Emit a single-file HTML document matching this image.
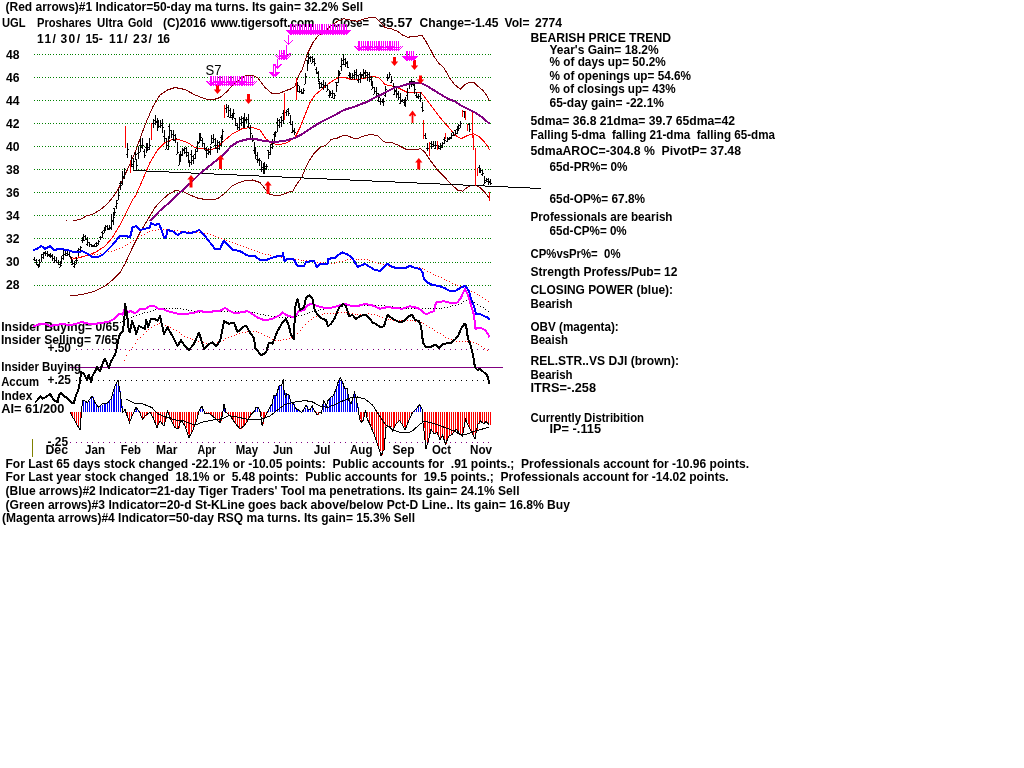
<!DOCTYPE html>
<html><head><meta charset="utf-8"><title>UGL Proshares Ultra Gold</title>
<style>html,body{margin:0;padding:0;background:#fff}svg{display:block}text{font-family:"Liberation Sans",sans-serif;font-weight:bold;font-size:12px;fill:#000}</style></head>
<body>
<svg width="1024" height="768" viewBox="0 0 1024 768" shape-rendering="crispEdges">
<rect width="1024" height="768" fill="#fff"/>
<line x1="70" x2="503" y1="367.5" y2="367.5" stroke="#800080" stroke-width="1"/>
<g id="labels">
<text x="5.5" y="11" textLength="357.5" lengthAdjust="spacingAndGlyphs" xml:space="preserve">(Red arrows)#1 Indicator=50-day ma turns. Its gain= 32.2% Sell</text>
<text x="2" y="27" textLength="23.5" lengthAdjust="spacingAndGlyphs" xml:space="preserve">UGL</text>
<text x="37" y="27" textLength="54.5" lengthAdjust="spacingAndGlyphs" xml:space="preserve">Proshares</text>
<text x="97" y="27" textLength="26" lengthAdjust="spacingAndGlyphs" xml:space="preserve">Ultra</text>
<text x="128" y="27" textLength="24.5" lengthAdjust="spacingAndGlyphs" xml:space="preserve">Gold</text>
<text x="163" y="27" textLength="43" lengthAdjust="spacingAndGlyphs" xml:space="preserve">(C)2016</text>
<text x="210.7" y="27" textLength="103.8" lengthAdjust="spacingAndGlyphs" xml:space="preserve">www.tigersoft.com</text>
<text x="332" y="27" textLength="37" lengthAdjust="spacingAndGlyphs" xml:space="preserve">Close=</text>
<text x="378.5" y="27" textLength="34" lengthAdjust="spacingAndGlyphs" xml:space="preserve">35.57</text>
<text x="419.5" y="27" textLength="79.1" lengthAdjust="spacingAndGlyphs" xml:space="preserve">Change=-1.45</text>
<text x="504.5" y="27" textLength="25" lengthAdjust="spacingAndGlyphs" xml:space="preserve">Vol=</text>
<text x="535" y="27" textLength="27" lengthAdjust="spacingAndGlyphs" xml:space="preserve">2774</text>
<text x="37" y="43" textLength="18.8" lengthAdjust="spacing" xml:space="preserve">11/</text>
<text x="60.5" y="43" textLength="19.5" lengthAdjust="spacing" xml:space="preserve">30/</text>
<text x="85.5" y="43" textLength="17.2" lengthAdjust="spacing" xml:space="preserve">15-</text>
<text x="108.9" y="43" textLength="18.8" lengthAdjust="spacing" xml:space="preserve">11/</text>
<text x="133.1" y="43" textLength="18.8" lengthAdjust="spacing" xml:space="preserve">23/</text>
<text x="157.3" y="43" textLength="12.7" lengthAdjust="spacing" xml:space="preserve">16</text>
<text x="530.5" y="42" textLength="140.5" lengthAdjust="spacingAndGlyphs" xml:space="preserve">BEARISH PRICE TREND</text>
<text x="549.5" y="54" textLength="109.2" lengthAdjust="spacingAndGlyphs" xml:space="preserve">Year's Gain= 18.2%</text>
<text x="549.5" y="66" textLength="116.2" lengthAdjust="spacingAndGlyphs" xml:space="preserve">% of days up= 50.2%</text>
<text x="549.5" y="80" textLength="141.5" lengthAdjust="spacingAndGlyphs" xml:space="preserve">% of openings up= 54.6%</text>
<text x="549.5" y="93" textLength="126" lengthAdjust="spacingAndGlyphs" xml:space="preserve">% of closings up= 43%</text>
<text x="549.5" y="106.5" textLength="114.5" lengthAdjust="spacingAndGlyphs" xml:space="preserve">65-day gain= -22.1%</text>
<text x="530.5" y="124.5" textLength="204.5" lengthAdjust="spacingAndGlyphs" xml:space="preserve">5dma= 36.8 21dma= 39.7 65dma=42</text>
<text x="530.5" y="139" textLength="244.5" lengthAdjust="spacingAndGlyphs" xml:space="preserve">Falling 5-dma  falling 21-dma  falling 65-dma</text>
<text x="530.5" y="154.5" textLength="210.5" lengthAdjust="spacingAndGlyphs" xml:space="preserve">5dmaAROC=-304.8 %  PivotP= 37.48</text>
<text x="549.5" y="170.5" textLength="78" lengthAdjust="spacingAndGlyphs" xml:space="preserve">65d-PR%= 0%</text>
<text x="549.5" y="202.5" textLength="95.5" lengthAdjust="spacingAndGlyphs" xml:space="preserve">65d-OP%= 67.8%</text>
<text x="530.5" y="221" textLength="142" lengthAdjust="spacingAndGlyphs" xml:space="preserve">Professionals are bearish</text>
<text x="549.5" y="234.5" textLength="77.2" lengthAdjust="spacingAndGlyphs" xml:space="preserve">65d-CP%= 0%</text>
<text x="530.5" y="258" textLength="90" lengthAdjust="spacingAndGlyphs" xml:space="preserve">CP%vsPr%=  0%</text>
<text x="530.5" y="276" textLength="147" lengthAdjust="spacingAndGlyphs" xml:space="preserve">Strength Profess/Pub= 12</text>
<text x="530.5" y="294" textLength="142.5" lengthAdjust="spacingAndGlyphs" xml:space="preserve">CLOSING POWER (blue):</text>
<text x="530.5" y="308" textLength="42" lengthAdjust="spacingAndGlyphs" xml:space="preserve">Bearish</text>
<text x="530.5" y="331" textLength="88.2" lengthAdjust="spacingAndGlyphs" xml:space="preserve">OBV (magenta):</text>
<text x="530.5" y="344" textLength="37.5" lengthAdjust="spacingAndGlyphs" xml:space="preserve">Beaish</text>
<text x="530.5" y="365" textLength="148.5" lengthAdjust="spacingAndGlyphs" xml:space="preserve">REL.STR..VS DJI (brown):</text>
<text x="530.5" y="379" textLength="42" lengthAdjust="spacingAndGlyphs" xml:space="preserve">Bearish</text>
<text x="530.5" y="392" textLength="65.5" lengthAdjust="spacingAndGlyphs" xml:space="preserve">ITRS=-.258</text>
<text x="530.5" y="422" textLength="113.5" lengthAdjust="spacingAndGlyphs" xml:space="preserve">Currently Distribition</text>
<text x="549.5" y="433" textLength="51.5" lengthAdjust="spacingAndGlyphs" xml:space="preserve">IP= -.115</text>
<text x="5.5" y="468" textLength="743.5" lengthAdjust="spacingAndGlyphs" xml:space="preserve">For Last 65 days stock changed -22.1% or -10.05 points:  Public accounts for  .91 points.;  Professionals account for -10.96 points.</text>
<text x="5.5" y="481" textLength="723.2" lengthAdjust="spacingAndGlyphs" xml:space="preserve">For Last year stock changed  18.1% or  5.48 points:  Public accounts for  19.5 points.;  Professionals account for -14.02 points.</text>
<text x="5.5" y="495" textLength="514" lengthAdjust="spacingAndGlyphs" xml:space="preserve">(Blue arrows)#2 Indicator=21-day Tiger Traders' Tool ma penetrations. Its gain= 24.1% Sell</text>
<text x="5.5" y="509" textLength="564.5" lengthAdjust="spacingAndGlyphs" xml:space="preserve">(Green arrows)#3 Indicator=20-d St-KLine goes back above/below Pct-D Line.. Its gain= 16.8% Buy</text>
<text x="2" y="521.5" textLength="413" lengthAdjust="spacingAndGlyphs" xml:space="preserve">(Magenta arrows)#4 Indicator=50-day RSQ ma turns. Its gain= 15.3% Sell</text>
<text x="45.5" y="454" textLength="22.5" lengthAdjust="spacingAndGlyphs" xml:space="preserve">Dec</text>
<text x="85" y="454" textLength="20" lengthAdjust="spacingAndGlyphs" xml:space="preserve">Jan</text>
<text x="120.8" y="454" textLength="20" lengthAdjust="spacingAndGlyphs" xml:space="preserve">Feb</text>
<text x="156" y="454" textLength="21.5" lengthAdjust="spacingAndGlyphs" xml:space="preserve">Mar</text>
<text x="197.5" y="454" textLength="18.5" lengthAdjust="spacingAndGlyphs" xml:space="preserve">Apr</text>
<text x="235.8" y="454" textLength="22.2" lengthAdjust="spacingAndGlyphs" xml:space="preserve">May</text>
<text x="273" y="454" textLength="20" lengthAdjust="spacingAndGlyphs" xml:space="preserve">Jun</text>
<text x="313.8" y="454" textLength="16.8" lengthAdjust="spacingAndGlyphs" xml:space="preserve">Jul</text>
<text x="350" y="454" textLength="22.5" lengthAdjust="spacingAndGlyphs" xml:space="preserve">Aug</text>
<text x="392.5" y="454" textLength="22" lengthAdjust="spacingAndGlyphs" xml:space="preserve">Sep</text>
<text x="432" y="454" textLength="19" lengthAdjust="spacingAndGlyphs" xml:space="preserve">Oct</text>
<text x="470" y="454" textLength="22" lengthAdjust="spacingAndGlyphs" xml:space="preserve">Nov</text>
<text x="1.2" y="330.5" textLength="117.8" lengthAdjust="spacingAndGlyphs" xml:space="preserve">Insider Buying= 0/65</text>
<text x="1" y="344" textLength="117" lengthAdjust="spacingAndGlyphs" xml:space="preserve">Insider Selling= 7/65</text>
<text x="47.5" y="351.5" textLength="23.5" lengthAdjust="spacingAndGlyphs" xml:space="preserve">+.50</text>
<text x="1.2" y="371" textLength="79.8" lengthAdjust="spacingAndGlyphs" xml:space="preserve">Insider Buying</text>
<text x="1.2" y="385.5" textLength="37.8" lengthAdjust="spacingAndGlyphs" xml:space="preserve">Accum</text>
<text x="47.5" y="384" textLength="23.5" lengthAdjust="spacingAndGlyphs" xml:space="preserve">+.25</text>
<text x="1.2" y="400" textLength="31.2" lengthAdjust="spacingAndGlyphs" xml:space="preserve">Index</text>
<text x="1.2" y="412.5" textLength="63.2" lengthAdjust="spacingAndGlyphs" xml:space="preserve">AI= 61/200</text>
<text x="47.5" y="446" textLength="20.5" lengthAdjust="spacingAndGlyphs" xml:space="preserve">-.25</text>
<text x="6" y="59" textLength="13.5" lengthAdjust="spacingAndGlyphs" xml:space="preserve">48</text>
<text x="6" y="82" textLength="13.5" lengthAdjust="spacingAndGlyphs" xml:space="preserve">46</text>
<text x="6" y="105" textLength="13.5" lengthAdjust="spacingAndGlyphs" xml:space="preserve">44</text>
<text x="6" y="128" textLength="13.5" lengthAdjust="spacingAndGlyphs" xml:space="preserve">42</text>
<text x="6" y="151" textLength="13.5" lengthAdjust="spacingAndGlyphs" xml:space="preserve">40</text>
<text x="6" y="174" textLength="13.5" lengthAdjust="spacingAndGlyphs" xml:space="preserve">38</text>
<text x="6" y="197" textLength="13.5" lengthAdjust="spacingAndGlyphs" xml:space="preserve">36</text>
<text x="6" y="220" textLength="13.5" lengthAdjust="spacingAndGlyphs" xml:space="preserve">34</text>
<text x="6" y="243" textLength="13.5" lengthAdjust="spacingAndGlyphs" xml:space="preserve">32</text>
<text x="6" y="266" textLength="13.5" lengthAdjust="spacingAndGlyphs" xml:space="preserve">30</text>
<text x="6" y="289" textLength="13.5" lengthAdjust="spacingAndGlyphs" xml:space="preserve">28</text>
<text x="205.5" y="75" style="font-weight:normal;font-size:14px" textLength="16" lengthAdjust="spacingAndGlyphs">S7</text>
</g>
<g id="grid" shape-rendering="crispEdges">
<path d="M34,54.5h1M37,54.5h1M39,54.5h1M42,54.5h1M45,54.5h1M48,54.5h1M50,54.5h1M53,54.5h1M56,54.5h1M59,54.5h1M61,54.5h1M64,54.5h1M67,54.5h1M70,54.5h1M72,54.5h1M75,54.5h1M78,54.5h1M81,54.5h1M83,54.5h1M86,54.5h1M89,54.5h1M92,54.5h1M94,54.5h1M97,54.5h1M100,54.5h1M103,54.5h1M105,54.5h1M108,54.5h1M111,54.5h1M114,54.5h1M116,54.5h1M119,54.5h1M122,54.5h1M125,54.5h1M127,54.5h1M130,54.5h1M133,54.5h1M136,54.5h1M138,54.5h1M141,54.5h1M144,54.5h1M147,54.5h1M149,54.5h1M152,54.5h1M155,54.5h1M158,54.5h1M160,54.5h1M163,54.5h1M166,54.5h1M169,54.5h1M171,54.5h1M174,54.5h1M177,54.5h1M180,54.5h1M182,54.5h1M185,54.5h1M188,54.5h1M191,54.5h1M193,54.5h1M196,54.5h1M199,54.5h1M202,54.5h1M204,54.5h1M207,54.5h1M210,54.5h1M213,54.5h1M215,54.5h1M218,54.5h1M221,54.5h1M224,54.5h1M226,54.5h1M229,54.5h1M232,54.5h1M235,54.5h1M237,54.5h1M240,54.5h1M243,54.5h1M246,54.5h1M248,54.5h1M251,54.5h1M254,54.5h1M257,54.5h1M259,54.5h1M262,54.5h1M265,54.5h1M268,54.5h1M270,54.5h1M273,54.5h1M276,54.5h1M279,54.5h1M281,54.5h1M284,54.5h1M287,54.5h1M290,54.5h1M292,54.5h1M295,54.5h1M298,54.5h1M301,54.5h1M303,54.5h1M306,54.5h1M309,54.5h1M312,54.5h1M314,54.5h1M317,54.5h1M320,54.5h1M323,54.5h1M325,54.5h1M328,54.5h1M331,54.5h1M334,54.5h1M336,54.5h1M339,54.5h1M342,54.5h1M345,54.5h1M347,54.5h1M350,54.5h1M353,54.5h1M356,54.5h1M358,54.5h1M361,54.5h1M364,54.5h1M367,54.5h1M369,54.5h1M372,54.5h1M375,54.5h1M378,54.5h1M380,54.5h1M383,54.5h1M386,54.5h1M389,54.5h1M391,54.5h1M394,54.5h1M397,54.5h1M400,54.5h1M402,54.5h1M405,54.5h1M408,54.5h1M411,54.5h1M413,54.5h1M416,54.5h1M419,54.5h1M422,54.5h1M424,54.5h1M427,54.5h1M430,54.5h1M433,54.5h1M435,54.5h1M438,54.5h1M441,54.5h1M444,54.5h1M446,54.5h1M449,54.5h1M452,54.5h1M455,54.5h1M457,54.5h1M460,54.5h1M463,54.5h1M466,54.5h1M468,54.5h1M471,54.5h1M474,54.5h1M477,54.5h1M479,54.5h1M482,54.5h1M485,54.5h1M488,54.5h1M490,54.5h1M34,77.5h1M37,77.5h1M39,77.5h1M42,77.5h1M45,77.5h1M48,77.5h1M50,77.5h1M53,77.5h1M56,77.5h1M59,77.5h1M61,77.5h1M64,77.5h1M67,77.5h1M70,77.5h1M72,77.5h1M75,77.5h1M78,77.5h1M81,77.5h1M83,77.5h1M86,77.5h1M89,77.5h1M92,77.5h1M94,77.5h1M97,77.5h1M100,77.5h1M103,77.5h1M105,77.5h1M108,77.5h1M111,77.5h1M114,77.5h1M116,77.5h1M119,77.5h1M122,77.5h1M125,77.5h1M127,77.5h1M130,77.5h1M133,77.5h1M136,77.5h1M138,77.5h1M141,77.5h1M144,77.5h1M147,77.5h1M149,77.5h1M152,77.5h1M155,77.5h1M158,77.5h1M160,77.5h1M163,77.5h1M166,77.5h1M169,77.5h1M171,77.5h1M174,77.5h1M177,77.5h1M180,77.5h1M182,77.5h1M185,77.5h1M188,77.5h1M191,77.5h1M193,77.5h1M196,77.5h1M199,77.5h1M202,77.5h1M204,77.5h1M207,77.5h1M210,77.5h1M213,77.5h1M215,77.5h1M218,77.5h1M221,77.5h1M224,77.5h1M226,77.5h1M229,77.5h1M232,77.5h1M235,77.5h1M237,77.5h1M240,77.5h1M243,77.5h1M246,77.5h1M248,77.5h1M251,77.5h1M254,77.5h1M257,77.5h1M259,77.5h1M262,77.5h1M265,77.5h1M268,77.5h1M270,77.5h1M273,77.5h1M276,77.5h1M279,77.5h1M281,77.5h1M284,77.5h1M287,77.5h1M290,77.5h1M292,77.5h1M295,77.5h1M298,77.5h1M301,77.5h1M303,77.5h1M306,77.5h1M309,77.5h1M312,77.5h1M314,77.5h1M317,77.5h1M320,77.5h1M323,77.5h1M325,77.5h1M328,77.5h1M331,77.5h1M334,77.5h1M336,77.5h1M339,77.5h1M342,77.5h1M345,77.5h1M347,77.5h1M350,77.5h1M353,77.5h1M356,77.5h1M358,77.5h1M361,77.5h1M364,77.5h1M367,77.5h1M369,77.5h1M372,77.5h1M375,77.5h1M378,77.5h1M380,77.5h1M383,77.5h1M386,77.5h1M389,77.5h1M391,77.5h1M394,77.5h1M397,77.5h1M400,77.5h1M402,77.5h1M405,77.5h1M408,77.5h1M411,77.5h1M413,77.5h1M416,77.5h1M419,77.5h1M422,77.5h1M424,77.5h1M427,77.5h1M430,77.5h1M433,77.5h1M435,77.5h1M438,77.5h1M441,77.5h1M444,77.5h1M446,77.5h1M449,77.5h1M452,77.5h1M455,77.5h1M457,77.5h1M460,77.5h1M463,77.5h1M466,77.5h1M468,77.5h1M471,77.5h1M474,77.5h1M477,77.5h1M479,77.5h1M482,77.5h1M485,77.5h1M488,77.5h1M490,77.5h1M34,100.5h1M37,100.5h1M39,100.5h1M42,100.5h1M45,100.5h1M48,100.5h1M50,100.5h1M53,100.5h1M56,100.5h1M59,100.5h1M61,100.5h1M64,100.5h1M67,100.5h1M70,100.5h1M72,100.5h1M75,100.5h1M78,100.5h1M81,100.5h1M83,100.5h1M86,100.5h1M89,100.5h1M92,100.5h1M94,100.5h1M97,100.5h1M100,100.5h1M103,100.5h1M105,100.5h1M108,100.5h1M111,100.5h1M114,100.5h1M116,100.5h1M119,100.5h1M122,100.5h1M125,100.5h1M127,100.5h1M130,100.5h1M133,100.5h1M136,100.5h1M138,100.5h1M141,100.5h1M144,100.5h1M147,100.5h1M149,100.5h1M152,100.5h1M155,100.5h1M158,100.5h1M160,100.5h1M163,100.5h1M166,100.5h1M169,100.5h1M171,100.5h1M174,100.5h1M177,100.5h1M180,100.5h1M182,100.5h1M185,100.5h1M188,100.5h1M191,100.5h1M193,100.5h1M196,100.5h1M199,100.5h1M202,100.5h1M204,100.5h1M207,100.5h1M210,100.5h1M213,100.5h1M215,100.5h1M218,100.5h1M221,100.5h1M224,100.5h1M226,100.5h1M229,100.5h1M232,100.5h1M235,100.5h1M237,100.5h1M240,100.5h1M243,100.5h1M246,100.5h1M248,100.5h1M251,100.5h1M254,100.5h1M257,100.5h1M259,100.5h1M262,100.5h1M265,100.5h1M268,100.5h1M270,100.5h1M273,100.5h1M276,100.5h1M279,100.5h1M281,100.5h1M284,100.5h1M287,100.5h1M290,100.5h1M292,100.5h1M295,100.5h1M298,100.5h1M301,100.5h1M303,100.5h1M306,100.5h1M309,100.5h1M312,100.5h1M314,100.5h1M317,100.5h1M320,100.5h1M323,100.5h1M325,100.5h1M328,100.5h1M331,100.5h1M334,100.5h1M336,100.5h1M339,100.5h1M342,100.5h1M345,100.5h1M347,100.5h1M350,100.5h1M353,100.5h1M356,100.5h1M358,100.5h1M361,100.5h1M364,100.5h1M367,100.5h1M369,100.5h1M372,100.5h1M375,100.5h1M378,100.5h1M380,100.5h1M383,100.5h1M386,100.5h1M389,100.5h1M391,100.5h1M394,100.5h1M397,100.5h1M400,100.5h1M402,100.5h1M405,100.5h1M408,100.5h1M411,100.5h1M413,100.5h1M416,100.5h1M419,100.5h1M422,100.5h1M424,100.5h1M427,100.5h1M430,100.5h1M433,100.5h1M435,100.5h1M438,100.5h1M441,100.5h1M444,100.5h1M446,100.5h1M449,100.5h1M452,100.5h1M455,100.5h1M457,100.5h1M460,100.5h1M463,100.5h1M466,100.5h1M468,100.5h1M471,100.5h1M474,100.5h1M477,100.5h1M479,100.5h1M482,100.5h1M485,100.5h1M488,100.5h1M490,100.5h1M34,123.5h1M37,123.5h1M39,123.5h1M42,123.5h1M45,123.5h1M48,123.5h1M50,123.5h1M53,123.5h1M56,123.5h1M59,123.5h1M61,123.5h1M64,123.5h1M67,123.5h1M70,123.5h1M72,123.5h1M75,123.5h1M78,123.5h1M81,123.5h1M83,123.5h1M86,123.5h1M89,123.5h1M92,123.5h1M94,123.5h1M97,123.5h1M100,123.5h1M103,123.5h1M105,123.5h1M108,123.5h1M111,123.5h1M114,123.5h1M116,123.5h1M119,123.5h1M122,123.5h1M125,123.5h1M127,123.5h1M130,123.5h1M133,123.5h1M136,123.5h1M138,123.5h1M141,123.5h1M144,123.5h1M147,123.5h1M149,123.5h1M152,123.5h1M155,123.5h1M158,123.5h1M160,123.5h1M163,123.5h1M166,123.5h1M169,123.5h1M171,123.5h1M174,123.5h1M177,123.5h1M180,123.5h1M182,123.5h1M185,123.5h1M188,123.5h1M191,123.5h1M193,123.5h1M196,123.5h1M199,123.5h1M202,123.5h1M204,123.5h1M207,123.5h1M210,123.5h1M213,123.5h1M215,123.5h1M218,123.5h1M221,123.5h1M224,123.5h1M226,123.5h1M229,123.5h1M232,123.5h1M235,123.5h1M237,123.5h1M240,123.5h1M243,123.5h1M246,123.5h1M248,123.5h1M251,123.5h1M254,123.5h1M257,123.5h1M259,123.5h1M262,123.5h1M265,123.5h1M268,123.5h1M270,123.5h1M273,123.5h1M276,123.5h1M279,123.5h1M281,123.5h1M284,123.5h1M287,123.5h1M290,123.5h1M292,123.5h1M295,123.5h1M298,123.5h1M301,123.5h1M303,123.5h1M306,123.5h1M309,123.5h1M312,123.5h1M314,123.5h1M317,123.5h1M320,123.5h1M323,123.5h1M325,123.5h1M328,123.5h1M331,123.5h1M334,123.5h1M336,123.5h1M339,123.5h1M342,123.5h1M345,123.5h1M347,123.5h1M350,123.5h1M353,123.5h1M356,123.5h1M358,123.5h1M361,123.5h1M364,123.5h1M367,123.5h1M369,123.5h1M372,123.5h1M375,123.5h1M378,123.5h1M380,123.5h1M383,123.5h1M386,123.5h1M389,123.5h1M391,123.5h1M394,123.5h1M397,123.5h1M400,123.5h1M402,123.5h1M405,123.5h1M408,123.5h1M411,123.5h1M413,123.5h1M416,123.5h1M419,123.5h1M422,123.5h1M424,123.5h1M427,123.5h1M430,123.5h1M433,123.5h1M435,123.5h1M438,123.5h1M441,123.5h1M444,123.5h1M446,123.5h1M449,123.5h1M452,123.5h1M455,123.5h1M457,123.5h1M460,123.5h1M463,123.5h1M466,123.5h1M468,123.5h1M471,123.5h1M474,123.5h1M477,123.5h1M479,123.5h1M482,123.5h1M485,123.5h1M488,123.5h1M490,123.5h1M34,146.5h1M37,146.5h1M39,146.5h1M42,146.5h1M45,146.5h1M48,146.5h1M50,146.5h1M53,146.5h1M56,146.5h1M59,146.5h1M61,146.5h1M64,146.5h1M67,146.5h1M70,146.5h1M72,146.5h1M75,146.5h1M78,146.5h1M81,146.5h1M83,146.5h1M86,146.5h1M89,146.5h1M92,146.5h1M94,146.5h1M97,146.5h1M100,146.5h1M103,146.5h1M105,146.5h1M108,146.5h1M111,146.5h1M114,146.5h1M116,146.5h1M119,146.5h1M122,146.5h1M125,146.5h1M127,146.5h1M130,146.5h1M133,146.5h1M136,146.5h1M138,146.5h1M141,146.5h1M144,146.5h1M147,146.5h1M149,146.5h1M152,146.5h1M155,146.5h1M158,146.5h1M160,146.5h1M163,146.5h1M166,146.5h1M169,146.5h1M171,146.5h1M174,146.5h1M177,146.5h1M180,146.5h1M182,146.5h1M185,146.5h1M188,146.5h1M191,146.5h1M193,146.5h1M196,146.5h1M199,146.5h1M202,146.5h1M204,146.5h1M207,146.5h1M210,146.5h1M213,146.5h1M215,146.5h1M218,146.5h1M221,146.5h1M224,146.5h1M226,146.5h1M229,146.5h1M232,146.5h1M235,146.5h1M237,146.5h1M240,146.5h1M243,146.5h1M246,146.5h1M248,146.5h1M251,146.5h1M254,146.5h1M257,146.5h1M259,146.5h1M262,146.5h1M265,146.5h1M268,146.5h1M270,146.5h1M273,146.5h1M276,146.5h1M279,146.5h1M281,146.5h1M284,146.5h1M287,146.5h1M290,146.5h1M292,146.5h1M295,146.5h1M298,146.5h1M301,146.5h1M303,146.5h1M306,146.5h1M309,146.5h1M312,146.5h1M314,146.5h1M317,146.5h1M320,146.5h1M323,146.5h1M325,146.5h1M328,146.5h1M331,146.5h1M334,146.5h1M336,146.5h1M339,146.5h1M342,146.5h1M345,146.5h1M347,146.5h1M350,146.5h1M353,146.5h1M356,146.5h1M358,146.5h1M361,146.5h1M364,146.5h1M367,146.5h1M369,146.5h1M372,146.5h1M375,146.5h1M378,146.5h1M380,146.5h1M383,146.5h1M386,146.5h1M389,146.5h1M391,146.5h1M394,146.5h1M397,146.5h1M400,146.5h1M402,146.5h1M405,146.5h1M408,146.5h1M411,146.5h1M413,146.5h1M416,146.5h1M419,146.5h1M422,146.5h1M424,146.5h1M427,146.5h1M430,146.5h1M433,146.5h1M435,146.5h1M438,146.5h1M441,146.5h1M444,146.5h1M446,146.5h1M449,146.5h1M452,146.5h1M455,146.5h1M457,146.5h1M460,146.5h1M463,146.5h1M466,146.5h1M468,146.5h1M471,146.5h1M474,146.5h1M477,146.5h1M479,146.5h1M482,146.5h1M485,146.5h1M488,146.5h1M490,146.5h1M34,169.5h1M37,169.5h1M39,169.5h1M42,169.5h1M45,169.5h1M48,169.5h1M50,169.5h1M53,169.5h1M56,169.5h1M59,169.5h1M61,169.5h1M64,169.5h1M67,169.5h1M70,169.5h1M72,169.5h1M75,169.5h1M78,169.5h1M81,169.5h1M83,169.5h1M86,169.5h1M89,169.5h1M92,169.5h1M94,169.5h1M97,169.5h1M100,169.5h1M103,169.5h1M105,169.5h1M108,169.5h1M111,169.5h1M114,169.5h1M116,169.5h1M119,169.5h1M122,169.5h1M125,169.5h1M127,169.5h1M130,169.5h1M133,169.5h1M136,169.5h1M138,169.5h1M141,169.5h1M144,169.5h1M147,169.5h1M149,169.5h1M152,169.5h1M155,169.5h1M158,169.5h1M160,169.5h1M163,169.5h1M166,169.5h1M169,169.5h1M171,169.5h1M174,169.5h1M177,169.5h1M180,169.5h1M182,169.5h1M185,169.5h1M188,169.5h1M191,169.5h1M193,169.5h1M196,169.5h1M199,169.5h1M202,169.5h1M204,169.5h1M207,169.5h1M210,169.5h1M213,169.5h1M215,169.5h1M218,169.5h1M221,169.5h1M224,169.5h1M226,169.5h1M229,169.5h1M232,169.5h1M235,169.5h1M237,169.5h1M240,169.5h1M243,169.5h1M246,169.5h1M248,169.5h1M251,169.5h1M254,169.5h1M257,169.5h1M259,169.5h1M262,169.5h1M265,169.5h1M268,169.5h1M270,169.5h1M273,169.5h1M276,169.5h1M279,169.5h1M281,169.5h1M284,169.5h1M287,169.5h1M290,169.5h1M292,169.5h1M295,169.5h1M298,169.5h1M301,169.5h1M303,169.5h1M306,169.5h1M309,169.5h1M312,169.5h1M314,169.5h1M317,169.5h1M320,169.5h1M323,169.5h1M325,169.5h1M328,169.5h1M331,169.5h1M334,169.5h1M336,169.5h1M339,169.5h1M342,169.5h1M345,169.5h1M347,169.5h1M350,169.5h1M353,169.5h1M356,169.5h1M358,169.5h1M361,169.5h1M364,169.5h1M367,169.5h1M369,169.5h1M372,169.5h1M375,169.5h1M378,169.5h1M380,169.5h1M383,169.5h1M386,169.5h1M389,169.5h1M391,169.5h1M394,169.5h1M397,169.5h1M400,169.5h1M402,169.5h1M405,169.5h1M408,169.5h1M411,169.5h1M413,169.5h1M416,169.5h1M419,169.5h1M422,169.5h1M424,169.5h1M427,169.5h1M430,169.5h1M433,169.5h1M435,169.5h1M438,169.5h1M441,169.5h1M444,169.5h1M446,169.5h1M449,169.5h1M452,169.5h1M455,169.5h1M457,169.5h1M460,169.5h1M463,169.5h1M466,169.5h1M468,169.5h1M471,169.5h1M474,169.5h1M477,169.5h1M479,169.5h1M482,169.5h1M485,169.5h1M488,169.5h1M490,169.5h1M34,192.5h1M37,192.5h1M39,192.5h1M42,192.5h1M45,192.5h1M48,192.5h1M50,192.5h1M53,192.5h1M56,192.5h1M59,192.5h1M61,192.5h1M64,192.5h1M67,192.5h1M70,192.5h1M72,192.5h1M75,192.5h1M78,192.5h1M81,192.5h1M83,192.5h1M86,192.5h1M89,192.5h1M92,192.5h1M94,192.5h1M97,192.5h1M100,192.5h1M103,192.5h1M105,192.5h1M108,192.5h1M111,192.5h1M114,192.5h1M116,192.5h1M119,192.5h1M122,192.5h1M125,192.5h1M127,192.5h1M130,192.5h1M133,192.5h1M136,192.5h1M138,192.5h1M141,192.5h1M144,192.5h1M147,192.5h1M149,192.5h1M152,192.5h1M155,192.5h1M158,192.5h1M160,192.5h1M163,192.5h1M166,192.5h1M169,192.5h1M171,192.5h1M174,192.5h1M177,192.5h1M180,192.5h1M182,192.5h1M185,192.5h1M188,192.5h1M191,192.5h1M193,192.5h1M196,192.5h1M199,192.5h1M202,192.5h1M204,192.5h1M207,192.5h1M210,192.5h1M213,192.5h1M215,192.5h1M218,192.5h1M221,192.5h1M224,192.5h1M226,192.5h1M229,192.5h1M232,192.5h1M235,192.5h1M237,192.5h1M240,192.5h1M243,192.5h1M246,192.5h1M248,192.5h1M251,192.5h1M254,192.5h1M257,192.5h1M259,192.5h1M262,192.5h1M265,192.5h1M268,192.5h1M270,192.5h1M273,192.5h1M276,192.5h1M279,192.5h1M281,192.5h1M284,192.5h1M287,192.5h1M290,192.5h1M292,192.5h1M295,192.5h1M298,192.5h1M301,192.5h1M303,192.5h1M306,192.5h1M309,192.5h1M312,192.5h1M314,192.5h1M317,192.5h1M320,192.5h1M323,192.5h1M325,192.5h1M328,192.5h1M331,192.5h1M334,192.5h1M336,192.5h1M339,192.5h1M342,192.5h1M345,192.5h1M347,192.5h1M350,192.5h1M353,192.5h1M356,192.5h1M358,192.5h1M361,192.5h1M364,192.5h1M367,192.5h1M369,192.5h1M372,192.5h1M375,192.5h1M378,192.5h1M380,192.5h1M383,192.5h1M386,192.5h1M389,192.5h1M391,192.5h1M394,192.5h1M397,192.5h1M400,192.5h1M402,192.5h1M405,192.5h1M408,192.5h1M411,192.5h1M413,192.5h1M416,192.5h1M419,192.5h1M422,192.5h1M424,192.5h1M427,192.5h1M430,192.5h1M433,192.5h1M435,192.5h1M438,192.5h1M441,192.5h1M444,192.5h1M446,192.5h1M449,192.5h1M452,192.5h1M455,192.5h1M457,192.5h1M460,192.5h1M463,192.5h1M466,192.5h1M468,192.5h1M471,192.5h1M474,192.5h1M477,192.5h1M479,192.5h1M482,192.5h1M485,192.5h1M488,192.5h1M490,192.5h1M34,215.5h1M37,215.5h1M39,215.5h1M42,215.5h1M45,215.5h1M48,215.5h1M50,215.5h1M53,215.5h1M56,215.5h1M59,215.5h1M61,215.5h1M64,215.5h1M67,215.5h1M70,215.5h1M72,215.5h1M75,215.5h1M78,215.5h1M81,215.5h1M83,215.5h1M86,215.5h1M89,215.5h1M92,215.5h1M94,215.5h1M97,215.5h1M100,215.5h1M103,215.5h1M105,215.5h1M108,215.5h1M111,215.5h1M114,215.5h1M116,215.5h1M119,215.5h1M122,215.5h1M125,215.5h1M127,215.5h1M130,215.5h1M133,215.5h1M136,215.5h1M138,215.5h1M141,215.5h1M144,215.5h1M147,215.5h1M149,215.5h1M152,215.5h1M155,215.5h1M158,215.5h1M160,215.5h1M163,215.5h1M166,215.5h1M169,215.5h1M171,215.5h1M174,215.5h1M177,215.5h1M180,215.5h1M182,215.5h1M185,215.5h1M188,215.5h1M191,215.5h1M193,215.5h1M196,215.5h1M199,215.5h1M202,215.5h1M204,215.5h1M207,215.5h1M210,215.5h1M213,215.5h1M215,215.5h1M218,215.5h1M221,215.5h1M224,215.5h1M226,215.5h1M229,215.5h1M232,215.5h1M235,215.5h1M237,215.5h1M240,215.5h1M243,215.5h1M246,215.5h1M248,215.5h1M251,215.5h1M254,215.5h1M257,215.5h1M259,215.5h1M262,215.5h1M265,215.5h1M268,215.5h1M270,215.5h1M273,215.5h1M276,215.5h1M279,215.5h1M281,215.5h1M284,215.5h1M287,215.5h1M290,215.5h1M292,215.5h1M295,215.5h1M298,215.5h1M301,215.5h1M303,215.5h1M306,215.5h1M309,215.5h1M312,215.5h1M314,215.5h1M317,215.5h1M320,215.5h1M323,215.5h1M325,215.5h1M328,215.5h1M331,215.5h1M334,215.5h1M336,215.5h1M339,215.5h1M342,215.5h1M345,215.5h1M347,215.5h1M350,215.5h1M353,215.5h1M356,215.5h1M358,215.5h1M361,215.5h1M364,215.5h1M367,215.5h1M369,215.5h1M372,215.5h1M375,215.5h1M378,215.5h1M380,215.5h1M383,215.5h1M386,215.5h1M389,215.5h1M391,215.5h1M394,215.5h1M397,215.5h1M400,215.5h1M402,215.5h1M405,215.5h1M408,215.5h1M411,215.5h1M413,215.5h1M416,215.5h1M419,215.5h1M422,215.5h1M424,215.5h1M427,215.5h1M430,215.5h1M433,215.5h1M435,215.5h1M438,215.5h1M441,215.5h1M444,215.5h1M446,215.5h1M449,215.5h1M452,215.5h1M455,215.5h1M457,215.5h1M460,215.5h1M463,215.5h1M466,215.5h1M468,215.5h1M471,215.5h1M474,215.5h1M477,215.5h1M479,215.5h1M482,215.5h1M485,215.5h1M488,215.5h1M490,215.5h1M34,238.5h1M37,238.5h1M39,238.5h1M42,238.5h1M45,238.5h1M48,238.5h1M50,238.5h1M53,238.5h1M56,238.5h1M59,238.5h1M61,238.5h1M64,238.5h1M67,238.5h1M70,238.5h1M72,238.5h1M75,238.5h1M78,238.5h1M81,238.5h1M83,238.5h1M86,238.5h1M89,238.5h1M92,238.5h1M94,238.5h1M97,238.5h1M100,238.5h1M103,238.5h1M105,238.5h1M108,238.5h1M111,238.5h1M114,238.5h1M116,238.5h1M119,238.5h1M122,238.5h1M125,238.5h1M127,238.5h1M130,238.5h1M133,238.5h1M136,238.5h1M138,238.5h1M141,238.5h1M144,238.5h1M147,238.5h1M149,238.5h1M152,238.5h1M155,238.5h1M158,238.5h1M160,238.5h1M163,238.5h1M166,238.5h1M169,238.5h1M171,238.5h1M174,238.5h1M177,238.5h1M180,238.5h1M182,238.5h1M185,238.5h1M188,238.5h1M191,238.5h1M193,238.5h1M196,238.5h1M199,238.5h1M202,238.5h1M204,238.5h1M207,238.5h1M210,238.5h1M213,238.5h1M215,238.5h1M218,238.5h1M221,238.5h1M224,238.5h1M226,238.5h1M229,238.5h1M232,238.5h1M235,238.5h1M237,238.5h1M240,238.5h1M243,238.5h1M246,238.5h1M248,238.5h1M251,238.5h1M254,238.5h1M257,238.5h1M259,238.5h1M262,238.5h1M265,238.5h1M268,238.5h1M270,238.5h1M273,238.5h1M276,238.5h1M279,238.5h1M281,238.5h1M284,238.5h1M287,238.5h1M290,238.5h1M292,238.5h1M295,238.5h1M298,238.5h1M301,238.5h1M303,238.5h1M306,238.5h1M309,238.5h1M312,238.5h1M314,238.5h1M317,238.5h1M320,238.5h1M323,238.5h1M325,238.5h1M328,238.5h1M331,238.5h1M334,238.5h1M336,238.5h1M339,238.5h1M342,238.5h1M345,238.5h1M347,238.5h1M350,238.5h1M353,238.5h1M356,238.5h1M358,238.5h1M361,238.5h1M364,238.5h1M367,238.5h1M369,238.5h1M372,238.5h1M375,238.5h1M378,238.5h1M380,238.5h1M383,238.5h1M386,238.5h1M389,238.5h1M391,238.5h1M394,238.5h1M397,238.5h1M400,238.5h1M402,238.5h1M405,238.5h1M408,238.5h1M411,238.5h1M413,238.5h1M416,238.5h1M419,238.5h1M422,238.5h1M424,238.5h1M427,238.5h1M430,238.5h1M433,238.5h1M435,238.5h1M438,238.5h1M441,238.5h1M444,238.5h1M446,238.5h1M449,238.5h1M452,238.5h1M455,238.5h1M457,238.5h1M460,238.5h1M463,238.5h1M466,238.5h1M468,238.5h1M471,238.5h1M474,238.5h1M477,238.5h1M479,238.5h1M482,238.5h1M485,238.5h1M488,238.5h1M490,238.5h1M34,262.5h1M37,262.5h1M39,262.5h1M42,262.5h1M45,262.5h1M48,262.5h1M50,262.5h1M53,262.5h1M56,262.5h1M59,262.5h1M61,262.5h1M64,262.5h1M67,262.5h1M70,262.5h1M72,262.5h1M75,262.5h1M78,262.5h1M81,262.5h1M83,262.5h1M86,262.5h1M89,262.5h1M92,262.5h1M94,262.5h1M97,262.5h1M100,262.5h1M103,262.5h1M105,262.5h1M108,262.5h1M111,262.5h1M114,262.5h1M116,262.5h1M119,262.5h1M122,262.5h1M125,262.5h1M127,262.5h1M130,262.5h1M133,262.5h1M136,262.5h1M138,262.5h1M141,262.5h1M144,262.5h1M147,262.5h1M149,262.5h1M152,262.5h1M155,262.5h1M158,262.5h1M160,262.5h1M163,262.5h1M166,262.5h1M169,262.5h1M171,262.5h1M174,262.5h1M177,262.5h1M180,262.5h1M182,262.5h1M185,262.5h1M188,262.5h1M191,262.5h1M193,262.5h1M196,262.5h1M199,262.5h1M202,262.5h1M204,262.5h1M207,262.5h1M210,262.5h1M213,262.5h1M215,262.5h1M218,262.5h1M221,262.5h1M224,262.5h1M226,262.5h1M229,262.5h1M232,262.5h1M235,262.5h1M237,262.5h1M240,262.5h1M243,262.5h1M246,262.5h1M248,262.5h1M251,262.5h1M254,262.5h1M257,262.5h1M259,262.5h1M262,262.5h1M265,262.5h1M268,262.5h1M270,262.5h1M273,262.5h1M276,262.5h1M279,262.5h1M281,262.5h1M284,262.5h1M287,262.5h1M290,262.5h1M292,262.5h1M295,262.5h1M298,262.5h1M301,262.5h1M303,262.5h1M306,262.5h1M309,262.5h1M312,262.5h1M314,262.5h1M317,262.5h1M320,262.5h1M323,262.5h1M325,262.5h1M328,262.5h1M331,262.5h1M334,262.5h1M336,262.5h1M339,262.5h1M342,262.5h1M345,262.5h1M347,262.5h1M350,262.5h1M353,262.5h1M356,262.5h1M358,262.5h1M361,262.5h1M364,262.5h1M367,262.5h1M369,262.5h1M372,262.5h1M375,262.5h1M378,262.5h1M380,262.5h1M383,262.5h1M386,262.5h1M389,262.5h1M391,262.5h1M394,262.5h1M397,262.5h1M400,262.5h1M402,262.5h1M405,262.5h1M408,262.5h1M411,262.5h1M413,262.5h1M416,262.5h1M419,262.5h1M422,262.5h1M424,262.5h1M427,262.5h1M430,262.5h1M433,262.5h1M435,262.5h1M438,262.5h1M441,262.5h1M444,262.5h1M446,262.5h1M449,262.5h1M452,262.5h1M455,262.5h1M457,262.5h1M460,262.5h1M463,262.5h1M466,262.5h1M468,262.5h1M471,262.5h1M474,262.5h1M477,262.5h1M479,262.5h1M482,262.5h1M485,262.5h1M488,262.5h1M490,262.5h1M34,285.5h1M37,285.5h1M39,285.5h1M42,285.5h1M45,285.5h1M48,285.5h1M50,285.5h1M53,285.5h1M56,285.5h1M59,285.5h1M61,285.5h1M64,285.5h1M67,285.5h1M70,285.5h1M72,285.5h1M75,285.5h1M78,285.5h1M81,285.5h1M83,285.5h1M86,285.5h1M89,285.5h1M92,285.5h1M94,285.5h1M97,285.5h1M100,285.5h1M103,285.5h1M105,285.5h1M108,285.5h1M111,285.5h1M114,285.5h1M116,285.5h1M119,285.5h1M122,285.5h1M125,285.5h1M127,285.5h1M130,285.5h1M133,285.5h1M136,285.5h1M138,285.5h1M141,285.5h1M144,285.5h1M147,285.5h1M149,285.5h1M152,285.5h1M155,285.5h1M158,285.5h1M160,285.5h1M163,285.5h1M166,285.5h1M169,285.5h1M171,285.5h1M174,285.5h1M177,285.5h1M180,285.5h1M182,285.5h1M185,285.5h1M188,285.5h1M191,285.5h1M193,285.5h1M196,285.5h1M199,285.5h1M202,285.5h1M204,285.5h1M207,285.5h1M210,285.5h1M213,285.5h1M215,285.5h1M218,285.5h1M221,285.5h1M224,285.5h1M226,285.5h1M229,285.5h1M232,285.5h1M235,285.5h1M237,285.5h1M240,285.5h1M243,285.5h1M246,285.5h1M248,285.5h1M251,285.5h1M254,285.5h1M257,285.5h1M259,285.5h1M262,285.5h1M265,285.5h1M268,285.5h1M270,285.5h1M273,285.5h1M276,285.5h1M279,285.5h1M281,285.5h1M284,285.5h1M287,285.5h1M290,285.5h1M292,285.5h1M295,285.5h1M298,285.5h1M301,285.5h1M303,285.5h1M306,285.5h1M309,285.5h1M312,285.5h1M314,285.5h1M317,285.5h1M320,285.5h1M323,285.5h1M325,285.5h1M328,285.5h1M331,285.5h1M334,285.5h1M336,285.5h1M339,285.5h1M342,285.5h1M345,285.5h1M347,285.5h1M350,285.5h1M353,285.5h1M356,285.5h1M358,285.5h1M361,285.5h1M364,285.5h1M367,285.5h1M369,285.5h1M372,285.5h1M375,285.5h1M378,285.5h1M380,285.5h1M383,285.5h1M386,285.5h1M389,285.5h1M391,285.5h1M394,285.5h1M397,285.5h1M400,285.5h1M402,285.5h1M405,285.5h1M408,285.5h1M411,285.5h1M413,285.5h1M416,285.5h1M419,285.5h1M422,285.5h1M424,285.5h1M427,285.5h1M430,285.5h1M433,285.5h1M435,285.5h1M438,285.5h1M441,285.5h1M444,285.5h1M446,285.5h1M449,285.5h1M452,285.5h1M455,285.5h1M457,285.5h1M460,285.5h1M463,285.5h1M466,285.5h1M468,285.5h1M471,285.5h1M474,285.5h1M477,285.5h1M479,285.5h1M482,285.5h1M485,285.5h1M488,285.5h1M490,285.5h1" stroke="#008000" stroke-width="1" fill="none"/>
<path d="M76,349.5h1M81,349.5h1M87,349.5h1M92,349.5h1M98,349.5h1M103,349.5h1M109,349.5h1M114,349.5h1M120,349.5h1M125,349.5h1M131,349.5h1M136,349.5h1M142,349.5h1M147,349.5h1M153,349.5h1M158,349.5h1M164,349.5h1M169,349.5h1M175,349.5h1M180,349.5h1M186,349.5h1M191,349.5h1M197,349.5h1M202,349.5h1M208,349.5h1M213,349.5h1M219,349.5h1M224,349.5h1M230,349.5h1M235,349.5h1M241,349.5h1M246,349.5h1M252,349.5h1M257,349.5h1M263,349.5h1M268,349.5h1M274,349.5h1M279,349.5h1M285,349.5h1M290,349.5h1M296,349.5h1M301,349.5h1M307,349.5h1M312,349.5h1M318,349.5h1M323,349.5h1M329,349.5h1M334,349.5h1M340,349.5h1M345,349.5h1M351,349.5h1M356,349.5h1M362,349.5h1M367,349.5h1M373,349.5h1M378,349.5h1M384,349.5h1M389,349.5h1M395,349.5h1M400,349.5h1M406,349.5h1M411,349.5h1M417,349.5h1M422,349.5h1M428,349.5h1M433,349.5h1M439,349.5h1M444,349.5h1M450,349.5h1M455,349.5h1M461,349.5h1M466,349.5h1M472,349.5h1M477,349.5h1M483,349.5h1M488,349.5h1M70,442.5h1M76,442.5h1M81,442.5h1M87,442.5h1M92,442.5h1M98,442.5h1M103,442.5h1M109,442.5h1M114,442.5h1M120,442.5h1M125,442.5h1M131,442.5h1M136,442.5h1M142,442.5h1M147,442.5h1M153,442.5h1M158,442.5h1M164,442.5h1M169,442.5h1M175,442.5h1M180,442.5h1M186,442.5h1M191,442.5h1M197,442.5h1M202,442.5h1M208,442.5h1M213,442.5h1M219,442.5h1M224,442.5h1M230,442.5h1M235,442.5h1M241,442.5h1M246,442.5h1M252,442.5h1M257,442.5h1M263,442.5h1M268,442.5h1M274,442.5h1M279,442.5h1M285,442.5h1M290,442.5h1M296,442.5h1M301,442.5h1M307,442.5h1M312,442.5h1M318,442.5h1M323,442.5h1M329,442.5h1M334,442.5h1M340,442.5h1M345,442.5h1M351,442.5h1M356,442.5h1M362,442.5h1M367,442.5h1M373,442.5h1M378,442.5h1M384,442.5h1M389,442.5h1M395,442.5h1M400,442.5h1M406,442.5h1M411,442.5h1M417,442.5h1M422,442.5h1M428,442.5h1M433,442.5h1M439,442.5h1M444,442.5h1M450,442.5h1M455,442.5h1M461,442.5h1M466,442.5h1M472,442.5h1M477,442.5h1M483,442.5h1M488,442.5h1" stroke="#800080" stroke-width="1" fill="none"/>
<path d="M76,380.5h1M81,380.5h1M87,380.5h1M92,380.5h1M98,380.5h1M103,380.5h1M109,380.5h1M114,380.5h1M120,380.5h1M125,380.5h1M131,380.5h1M136,380.5h1M142,380.5h1M147,380.5h1M153,380.5h1M158,380.5h1M164,380.5h1M169,380.5h1M175,380.5h1M180,380.5h1M186,380.5h1M191,380.5h1M197,380.5h1M202,380.5h1M208,380.5h1M213,380.5h1M219,380.5h1M224,380.5h1M230,380.5h1M235,380.5h1M241,380.5h1M246,380.5h1M252,380.5h1M257,380.5h1M263,380.5h1M268,380.5h1M274,380.5h1M279,380.5h1M285,380.5h1M290,380.5h1M296,380.5h1M301,380.5h1M307,380.5h1M312,380.5h1M318,380.5h1M323,380.5h1M329,380.5h1M334,380.5h1M340,380.5h1M345,380.5h1M351,380.5h1M356,380.5h1M362,380.5h1M367,380.5h1M373,380.5h1M378,380.5h1M384,380.5h1M389,380.5h1M395,380.5h1M400,380.5h1M406,380.5h1M411,380.5h1M417,380.5h1M422,380.5h1M428,380.5h1M433,380.5h1M439,380.5h1M444,380.5h1M450,380.5h1M455,380.5h1M461,380.5h1M466,380.5h1M472,380.5h1M477,380.5h1M483,380.5h1M488,380.5h1" stroke="#000" stroke-width="1" fill="none"/>
<line x1="32.5" x2="32.5" y1="439" y2="457" stroke="#808000" stroke-width="1"/>
</g>
<g id="ai" shape-rendering="crispEdges">
<path d="M83.5,411.5V400.2M85.5,411.5V401.2M87.5,411.5V402.3M89.5,411.5V400.5M91.5,411.5V397.9M93.5,411.5V397.2M94.5,411.5V401.1M96.5,411.5V404.1M98.5,411.5V406.5M100.5,411.5V406.4M102.5,411.5V404.6M104.5,411.5V403.6M105.5,411.5V403.3M107.5,411.5V403M109.5,411.5V401.3M111.5,411.5V399.2M113.5,411.5V393.6M114.5,411.5V387.7M116.5,411.5V383.4M118.5,411.5V380.9M120.5,411.5V391.4M122.5,411.5V406.1M125.5,411.5V410.9M135.5,411.5V410.5M136.5,411.5V408M138.5,411.5V410.1M200.5,411.5V408.6M202.5,411.5V406.8M224.5,411.5V405.5M255.5,411.5V409M257.5,411.5V407.7M259.5,411.5V409.2M268.5,411.5V410.7M270.5,411.5V407.2M272.5,411.5V404.4M274.5,411.5V395.6M275.5,411.5V395.2M277.5,411.5V392.3M279.5,411.5V385.6M281.5,411.5V385.9M283.5,411.5V380.8M285.5,411.5V393.1M286.5,411.5V394.4M288.5,411.5V394.7M290.5,411.5V398.9M292.5,411.5V402.7M294.5,411.5V404.3M296.5,411.5V407.9M297.5,411.5V409.5M299.5,411.5V410.6M303.5,411.5V410.6M305.5,411.5V407.5M307.5,411.5V406.1M308.5,411.5V409M310.5,411.5V409.2M312.5,411.5V406.3M314.5,411.5V409.7M323.5,411.5V403.7M325.5,411.5V402.9M327.5,411.5V405.6M329.5,411.5V400M330.5,411.5V397.8M332.5,411.5V396.3M334.5,411.5V394.2M336.5,411.5V389.2M338.5,411.5V383.6M339.5,411.5V379.4M341.5,411.5V379.5M343.5,411.5V383.8M345.5,411.5V388.8M347.5,411.5V388.8M349.5,411.5V398.2M350.5,411.5V402.9M352.5,411.5V399.7M354.5,411.5V393.7M356.5,411.5V396.9M358.5,411.5V406.9M414.5,411.5V410.5M416.5,411.5V408.6M418.5,411.5V406.2M420.5,411.5V405.4M422.5,411.5V408.7" stroke="#0000ff" stroke-width="1" fill="none"/>
<path d="M71.5,411.5V413.5M72.5,411.5V416.6M74.5,411.5V419.7M76.5,411.5V422.9M78.5,411.5V426.2M80.5,411.5V429.5M127.5,411.5V416.2M129.5,411.5V421.4M131.5,411.5V418.9M133.5,411.5V414.4M140.5,411.5V413.5M142.5,411.5V417.7M144.5,411.5V417.6M146.5,411.5V415.5M147.5,411.5V414.1M149.5,411.5V413M151.5,411.5V414.3M153.5,411.5V417.3M155.5,411.5V421.8M157.5,411.5V426.4M158.5,411.5V424.5M160.5,411.5V421.3M162.5,411.5V423.6M164.5,411.5V425.9M166.5,411.5V418.7M169.5,411.5V415.8M171.5,411.5V420.4M173.5,411.5V423.8M175.5,411.5V427.2M177.5,411.5V428.3M179.5,411.5V427.5M180.5,411.5V422M182.5,411.5V421.8M184.5,411.5V424.5M186.5,411.5V428.4M188.5,411.5V433.7M189.5,411.5V436.6M191.5,411.5V433.2M193.5,411.5V429.4M195.5,411.5V425M197.5,411.5V419.4M199.5,411.5V412.4M206.5,411.5V413.9M208.5,411.5V413.7M210.5,411.5V413.9M211.5,411.5V415.2M213.5,411.5V416.7M215.5,411.5V418.2M217.5,411.5V419.8M219.5,411.5V421.4M221.5,411.5V420.7M222.5,411.5V415.2M226.5,411.5V412.6M228.5,411.5V413.9M230.5,411.5V415.3M232.5,411.5V417.8M233.5,411.5V420.6M235.5,411.5V423.3M237.5,411.5V425.5M239.5,411.5V427.7M241.5,411.5V428.5M243.5,411.5V427.1M244.5,411.5V425.5M246.5,411.5V422.9M248.5,411.5V420M250.5,411.5V416.6M252.5,411.5V413.8M261.5,411.5V415.7M263.5,411.5V424M264.5,411.5V418M266.5,411.5V414.4M301.5,411.5V412.1M316.5,411.5V412.6M318.5,411.5V414.6M319.5,411.5V412.5M321.5,411.5V412.8M360.5,411.5V419.1M361.5,411.5V421.8M363.5,411.5V420.2M367.5,411.5V417.4M369.5,411.5V422M371.5,411.5V426M372.5,411.5V430.4M374.5,411.5V434.8M376.5,411.5V440.3M378.5,411.5V445.9M380.5,411.5V451M382.5,411.5V454.6M383.5,411.5V450.6M385.5,411.5V436.2M387.5,411.5V427.1M389.5,411.5V426.4M391.5,411.5V427.4M393.5,411.5V430.9M394.5,411.5V427.2M396.5,411.5V423.8M398.5,411.5V422M400.5,411.5V421M402.5,411.5V423.8M404.5,411.5V427M405.5,411.5V429.1M407.5,411.5V424.5M409.5,411.5V420M411.5,411.5V416.1M413.5,411.5V412.3M424.5,411.5V428.2M425.5,411.5V444.4M427.5,411.5V444.2M429.5,411.5V437.4M431.5,411.5V429.2M433.5,411.5V432M435.5,411.5V433.7M436.5,411.5V432.8M438.5,411.5V435.5M440.5,411.5V439.3M442.5,411.5V436M444.5,411.5V438.8M446.5,411.5V443.8M447.5,411.5V439.6M449.5,411.5V435.9M451.5,411.5V434.8M453.5,411.5V433.4M455.5,411.5V430.8M457.5,411.5V429.7M458.5,411.5V432M460.5,411.5V434.2M462.5,411.5V435.6M464.5,411.5V428.1M466.5,411.5V419.5M468.5,411.5V423.9M469.5,411.5V427.8M471.5,411.5V431.4M473.5,411.5V435.1M475.5,411.5V438.7M477.5,411.5V429.5M479.5,411.5V423.6M480.5,411.5V421.2M482.5,411.5V422.4M484.5,411.5V424M486.5,411.5V421.2M488.5,411.5V423.2M490.5,411.5V425" stroke="#ff0000" stroke-width="1" fill="none"/>
</g>
<polyline points="70,412.5 75,421 80,430 82,406 83,400 87.5,402.5 92,396 95,402.5 98.8,407.5 102.5,403.8 107.5,403 111,399 115,386 118,380 120.6,395 122.5,412.5 125,409.5 126,412.5 129.5,422.5 132.5,415 136,407.5 139,411 142.5,419 146,415 150,412.5 153,417.5 157,427.5 160,421 164,426 167.5,411 171,420 175,427.5 178,429 181,420 185,426 189,437.5 192.5,431 196,422.5 199,411 202,406 205,414 209,413.5 212.5,416 216,419 220,422.5 222.5,415 224,404.5 226,412.5 230,415.5 235,423 240,429 244,426 247.5,421 251,414.5 254.5,411 256,407.5 258.5,408 260.4,412.5 262.2,426 263.5,420 267.2,412.5 269.8,407.5 272.2,403.8 273.5,395.6 276.6,395 279,385.6 281.6,386 283.2,378.8 284,390 285.4,397 286.6,394 289,395 291,402 293.5,403.8 296,408.8 298.5,410 301.6,412.5 304,409 306,405 308,408.8 309.8,410 312.2,406 314,410 317.2,415 319.8,412 321.6,413 323.5,400.6 325.4,403.8 326.6,406 328,400.6 331,397 333.5,395.6 336,388.8 338.5,381 340.4,378 342.2,381 344.8,388.8 347.2,388.8 349,400.6 351,403.8 353,397.5 354.5,392.5 356,397 357.2,403.8 358.5,411 359.8,420 361.6,422 363.5,420 365.4,410 366,412.5 367.2,419 369.8,424 372.2,430 374.8,436 377.2,444 379.8,451 381,456 383,451 384,450 386,427.5 390,426 392.5,431 396,424 399.5,420.5 402.5,425 405,430 409,420 412.5,412.5 416,409 419.5,404.5 422,409 423,422.5 426,449 429,438 431,429 434,434 437,432.5 440,439.5 442.5,435 445.5,444 449,436 452.5,434 456,429 460,434 462.5,436 465.5,419 468,425 471,431 475,439 477.5,425 480.5,421 484,424 486,421 489,425" fill="none" stroke="#000" stroke-width="1" />
<polyline points="126,399.5 128,400 134,403 141.8,403.5 151.8,407.5 158,413.8 165.5,417 175.5,420 183,420.6 190.5,423.8 195.5,424.8 203,422 213,420 221.8,418.8 229.2,415.6 236.8,417 248,419.4 255.5,419.4 260,419.5 270,416 277.5,410 285,404.5 295,402 305,400.5 312.5,402 320,406 327.5,407.5 335,404.5 342.5,401 350,398 357.5,397 365,399 372.5,405 379,415 385,424 392.5,430 400,432.2 407.5,433 413,430.5 420,424 425,421 435,424 445,427.5 455,431.5 460,434.5 467.5,434 475,431 482.5,429 489,427" fill="none" stroke="#000" stroke-width="1" />
<g id="price">
<polyline points="72.5,220.4 80,219.8 86,216 92.5,214.4 100,210 107.5,203.8 112.5,197.5 117.5,190.6 125,175 135,152.5 145,125 152.5,107.5 160,95 167.5,90 175,87.5 185,89.5 195,95 205,98.8 212.5,100 220,97.5 227.5,91 235,82.5 245,76 252,75 257.5,77.5 265,87.5 272.5,94 280,93 287.5,90 290,89.4 295,86.2 297.5,78 302.5,68.8 308,52.5 313,42.5 318.8,35 325,31.2 331.2,25.6 337.5,21.2 343.8,18.8 350,20 357.5,21.2 365,18.8 371.2,17 376.2,18 381.2,23 385,27.5 391.2,28.8 397.5,31.2 402.5,35 407.5,37.2 415,36.5 416.5,36.2 422,35.5 425.2,40.2 430.2,49 434,56.5 439,63.4 444,67.8 449,77 454,84 460.2,89.2 463,86.5 466.5,83.4 470,82.6 474,82.5 476.5,85.2 482.8,90.2 486.5,95.2 489,100.2 490,101" fill="none" stroke="#800000" stroke-width="1" />
<rect x="66" y="220" width="1" height="1" fill="#800000"/>
<polyline points="70,295.8 82.5,294.5 95,291.2 105,286.2 112.5,280 120,272.5 125,263.8 132.5,247.5 140,232.5 147.5,220 155,207.5 160,202 167.5,195 175,190.8 182.5,191.2 190,195 197.5,198 207.5,200 217.5,198.8 225,193 232.5,185.5 242.5,181.2 252.5,180 260,182.5 266,190 270,194.4 276,195.6 282.5,194.8 287.5,192.5 293,191 297,183.8 302,177 306.2,166.2 310,159.4 314.4,153 320,147.5 326.2,145 331.2,139.4 337.5,138 342.5,135.6 347.5,135.6 352.5,138 357.5,138.5 365,135.6 371.2,134.4 377.5,135.6 382.5,140.6 386.2,142.5 392.5,142.9 397.5,144.8 400,146.2 407.5,150 415,149.5 421,148.8 425,152.5 430,160 437.5,170 445,177.5 450,183 457.5,190 462.5,191.2 468.8,186.2 475,185 480,187.5 485,192.5 488.8,197.5 490,200" fill="none" stroke="#800000" stroke-width="1" />
<line x1="489.5" x2="489.5" y1="192" y2="201" stroke="#ff0000"/>
<polyline points="71,259.5 82.5,257 95,252.5 105,246.2 112.5,237.5 120,225 127.5,210 132.5,200 136,195 142.5,180 150,162.5 157.5,150 165,142.5 172.5,139.5 180,140 187.5,142.5 195,147.5 205,149.2 212,149.5 217.5,147 225,140 232.5,133.8 242.5,128.5 252.5,127.5 260,130 266,138.8 272.5,143.8 280,144.5 287.5,142.5 295,137.5 300,127.5 305,115 310,102.5 315,95 322.5,88.8 330,82.5 337.5,78 345,77.5 352.5,80 362.5,78.8 372.5,76.2 378.8,77.5 385,84.5 392.5,86.2 400,88.8 407.5,92.5 415,92.5 421,92.5 425,97.5 432.5,107.5 440,117.5 447.5,126 455,135 461,138.8 467.5,135.5 473.8,133.8 478.8,136.2 483.8,141.2 487.5,146.2 489.5,150" fill="none" stroke="#ff0000" stroke-width="1" />
<path d="M133,170.5H146M146,171.5H169M169,172.5H191M191,173.5H214M214,174.5H237M237,175.5H259M259,176.5H282M282,177.5H304M304,178.5H327M327,179.5H350M350,180.5H372M372,181.5H395M395,182.5H417M417,183.5H440M440,184.5H463M463,185.5H485M485,186.5H508M508,187.5H530M530,188.5H541" stroke="#000" stroke-width="1" fill="none"/>
<path d="M34.5,257V260.8M33,259.5h1M35,260.5h1M36.5,259.4V264.5M35,262.5h1M37,264.5h1M38.5,263.6V267.5M37,265.5h1M39,266.5h1M39.5,258.7V265.8M38,260.5h1M40,262.5h1M41.5,254.3V261.8M40,262.5h1M42,257.5h1M43.5,252.1V258.5M42,254.5h1M44,253.5h1M45.5,251.4V256.4M44,252.5h1M46,253.5h1M47.5,251.2V257M46,253.5h1M48,254.5h1M49.5,253.6V256.3M48,255.5h1M50,255.5h1M50.5,253.4V258.1M49,256.5h1M51,256.5h1M52.5,253.7V260.5M51,255.5h1M53,258.5h1M54.5,256.2V262.6M53,262.5h1M55,260.5h1M56.5,257.3V263.4M55,260.5h1M57,262.5h1M58.5,259.8V265.2M57,262.5h1M59,264.5h1M60.5,261.2V267.3M59,267.5h1M61,265.5h1M61.5,256.1V263.6M60,261.5h1M62,258.5h1M63.5,250.2V259.6M62,255.5h1M64,254.5h1M65.5,251.2V255.7M64,254.5h1M66,255.5h1M67.5,251.1V256.2M66,253.5h1M68,254.5h1M69.5,252.1V256.7M68,254.5h1M70,256.5h1M71.5,256.6V263.1M70,257.5h1M72,260.5h1M72.5,259.6V264.6M71,264.5h1M73,263.5h1M74.5,260.8V267.5M73,266.5h1M75,264.5h1M76.5,256.9V264.2M75,260.5h1M77,260.5h1M78.5,248.3V256.3M77,250.5h1M79,252.5h1M80.5,245.6V251.6M79,249.5h1M81,247.5h1M82.5,237.4V243.3M81,240.5h1M83,238.5h1M83.5,233.9V241M82,239.5h1M84,236.5h1M85.5,234.7V240.3M84,240.5h1M86,239.5h1M87.5,237.4V245.7M86,244.5h1M88,242.5h1M89.5,242.1V246.9M88,242.5h1M90,244.5h1M91.5,243.9V247.2M90,244.5h1M92,246.5h1M93.5,244.8V246.9M92,245.5h1M94,246.5h1M94.5,243.7V246.7M93,246.5h1M95,246.5h1M96.5,241.5V246.5M95,243.5h1M97,243.5h1M98.5,239.7V245.4M97,245.5h1M99,241.5h1M100.5,235.7V240.3M99,237.5h1M101,237.5h1M102.5,230.9V238.2M101,232.5h1M103,233.5h1M104.5,227.3V232.6M103,230.5h1M105,230.5h1M105.5,224.7V230.3M104,230.5h1M106,226.5h1M107.5,224.9V229.7M106,226.5h1M108,228.5h1M109.5,224.8V230.4M108,229.5h1M110,228.5h1M111.5,214.4V229.7M110,227.5h1M112,220.5h1M113.5,211.6V224.8M112,221.5h1M114,217.5h1M114.5,208.1V216.2M113,208.5h1M115,212.5h1M116.5,200.1V209M115,206.5h1M117,203.5h1M118.5,189.1V200.1M117,200.5h1M119,195.5h1M120.5,181.2V190.3M119,183.5h1M121,185.5h1M122.5,171.3V185.3M121,183.5h1M123,176.5h1M124.5,167.6V179.2M123,177.5h1M125,172.5h1M127.5,142.8V157.7M126,154.5h1M128,149.5h1M131.5,155.3V167.3M130,165.5h1M132,164.5h1M133.5,157.7V169.3M132,166.5h1M134,161.5h1M135.5,151.9V159.5M134,153.5h1M136,154.5h1M136.5,159.4V170.4M135,170.5h1M137,165.5h1M138.5,147.2V158.6M137,153.5h1M139,152.5h1M140.5,137.8V152.4M139,145.5h1M141,145.5h1M142.5,138.2V148.8M141,147.5h1M143,145.5h1M144.5,149.2V158.1M143,151.5h1M145,155.5h1M146.5,142.5V153.1M145,147.5h1M147,147.5h1M147.5,143.1V150.8M146,148.5h1M148,147.5h1M149.5,138.4V149.5M148,149.5h1M150,145.5h1M153.5,118.6V127.6M152,123.5h1M154,123.5h1M155.5,115.4V124.7M154,120.5h1M156,121.5h1M157.5,118.2V131M156,122.5h1M158,127.5h1M158.5,119.9V128.3M157,125.5h1M159,126.5h1M160.5,120.1V127.5M159,126.5h1M161,123.5h1M162.5,118.9V133.1M161,125.5h1M163,127.5h1M164.5,130.3V142.2M163,136.5h1M165,138.5h1M166.5,138V149.3M165,149.5h1M167,145.5h1M168.5,136.1V149.7M167,149.5h1M169,141.5h1M169.5,123.7V139.1M168,126.5h1M170,130.5h1M171.5,129.8V138.1M170,130.5h1M172,134.5h1M173.5,129.5V140.5M172,139.5h1M174,135.5h1M175.5,133.8V142.9M174,140.5h1M176,138.5h1M177.5,142V154.4M176,154.5h1M178,152.5h1M179.5,154.3V164.9M178,165.5h1M180,161.5h1M180.5,151.3V162.2M179,155.5h1M181,155.5h1M182.5,147.5V156.1M181,154.5h1M183,150.5h1M184.5,147V153.7M183,149.5h1M185,152.5h1M186.5,147.3V156.5M185,148.5h1M187,152.5h1M188.5,151.5V163.3M187,155.5h1M189,161.5h1M189.5,159.7V167M188,162.5h1M190,162.5h1M191.5,149.7V164.8M190,154.5h1M192,156.5h1M193.5,154.5V163.9M192,160.5h1M194,158.5h1M195.5,149.4V159.1M194,154.5h1M196,151.5h1M197.5,140.7V151.8M196,148.5h1M198,143.5h1M199.5,133V143.1M198,142.5h1M200,139.5h1M200.5,132.7V141.4M199,138.5h1M201,137.5h1M202.5,137.7V147M201,140.5h1M203,143.5h1M204.5,142.7V150M203,143.5h1M205,148.5h1M206.5,146.8V158.2M205,150.5h1M207,153.5h1M208.5,147.9V155M207,150.5h1M209,152.5h1M210.5,145.6V155.3M209,151.5h1M211,147.5h1M211.5,135V144.4M210,144.5h1M212,138.5h1M213.5,134.2V143M212,142.5h1M214,139.5h1M215.5,137.9V148.6M214,145.5h1M216,145.5h1M217.5,139.9V153.2M216,148.5h1M218,148.5h1M219.5,141V150M218,142.5h1M220,145.5h1M221.5,135.1V145.9M220,137.5h1M222,141.5h1M222.5,128.8V139.5M221,138.5h1M223,131.5h1M226.5,103.8V112.6M225,108.5h1M227,107.5h1M228.5,105.1V116.5M227,116.5h1M229,110.5h1M230.5,107.5V117.5M229,117.5h1M231,115.5h1M232.5,114.1V120.3M231,117.5h1M233,117.5h1M233.5,108.7V117.8M232,113.5h1M234,113.5h1M235.5,117.7V126.2M234,118.5h1M236,123.5h1M237.5,122.9V130.3M236,125.5h1M238,127.5h1M239.5,117.3V130.4M238,127.5h1M240,123.5h1M241.5,115.5V125.9M240,119.5h1M242,122.5h1M243.5,117.1V128.4M242,118.5h1M244,124.5h1M244.5,112.7V127.7M243,122.5h1M245,119.5h1M246.5,116.6V123.1M245,120.5h1M247,119.5h1M248.5,114.4V128.2M247,126.5h1M249,123.5h1M250.5,124.7V138M249,128.5h1M251,133.5h1M252.5,135.4V142.2M251,138.5h1M253,140.5h1M254.5,141.9V154.1M253,150.5h1M255,149.5h1M255.5,146.8V159M254,147.5h1M256,155.5h1M257.5,152.2V162.9M256,159.5h1M258,159.5h1M259.5,157.5V165.6M258,160.5h1M260,160.5h1M261.5,160.9V171.9M260,169.5h1M262,169.5h1M263.5,162.7V173.9M262,167.5h1M264,170.5h1M264.5,162.3V173.8M263,170.5h1M265,168.5h1M266.5,164.2V169.5M265,166.5h1M267,166.5h1M268.5,149.7V158.8M267,150.5h1M269,154.5h1M270.5,144.2V155M269,152.5h1M271,147.5h1M272.5,138.8V149.4M271,144.5h1M273,143.5h1M274.5,131.9V143.1M273,134.5h1M275,134.5h1M275.5,130.5V137.1M274,136.5h1M276,132.5h1M277.5,118.2V131.7M276,122.5h1M278,125.5h1M279.5,119.1V128.1M278,120.5h1M280,122.5h1M281.5,115.8V127.4M280,117.5h1M282,120.5h1M283.5,110.2V123.8M282,113.5h1M284,117.5h1M286.5,109.5V115.6M285,112.5h1M287,111.5h1M288.5,107.7V115.7M287,109.5h1M289,113.5h1M290.5,114.5V125.1M289,122.5h1M291,124.5h1M292.5,121.4V132.6M291,132.5h1M293,130.5h1M294.5,127.8V134.9M293,131.5h1M295,132.5h1M297.5,81.9V92M296,85.5h1M298,85.5h1M299.5,85.8V92.6M298,91.5h1M300,91.5h1M301.5,88.7V94M300,91.5h1M302,92.5h1M303.5,87.6V93.6M302,93.5h1M304,90.5h1M305.5,72.5V84.3M304,84.5h1M306,76.5h1M307.5,59.8V70.5M306,60.5h1M308,63.5h1M308.5,53.1V64.4M307,56.5h1M309,58.5h1M310.5,56.1V62.4M309,57.5h1M311,57.5h1M312.5,55.7V63.4M311,63.5h1M313,59.5h1M314.5,58.2V66.4M313,61.5h1M315,63.5h1M316.5,67.3V74.1M315,69.5h1M317,72.5h1M318.5,70.7V82.1M317,73.5h1M319,79.5h1M319.5,81V88.9M318,83.5h1M320,87.5h1M321.5,82V88.3M320,83.5h1M322,84.5h1M323.5,80.4V89.6M322,87.5h1M324,85.5h1M325.5,81.8V87.7M324,85.5h1M326,85.5h1M327.5,85V91.3M326,91.5h1M328,89.5h1M329.5,89.6V97.6M328,95.5h1M330,94.5h1M330.5,90.9V96.2M329,93.5h1M331,93.5h1M332.5,89.8V98.2M331,97.5h1M333,93.5h1M334.5,92.5V99.1M333,98.5h1M335,95.5h1M336.5,81.8V91.6M335,82.5h1M337,85.5h1M338.5,70.3V82.8M337,82.5h1M339,75.5h1M339.5,70.7V75.9M338,72.5h1M340,73.5h1M341.5,58.2V70.7M340,66.5h1M342,64.5h1M343.5,54.3V64.7M342,60.5h1M344,59.5h1M345.5,57.9V67M344,64.5h1M346,62.5h1M347.5,61.4V68.3M346,63.5h1M348,67.5h1M349.5,72V78.2M348,75.5h1M350,77.5h1M350.5,72.9V79.4M349,74.5h1M351,77.5h1M352.5,72.6V79.1M351,79.5h1M353,75.5h1M354.5,70.3V79.6M353,75.5h1M355,74.5h1M356.5,69.2V79M355,72.5h1M357,75.5h1M358.5,75.4V82.6M357,80.5h1M359,79.5h1M360.5,72V83M359,74.5h1M361,76.5h1M361.5,73.8V78.3M360,76.5h1M362,75.5h1M363.5,68.6V78.5M362,74.5h1M364,73.5h1M365.5,70V77.9M364,72.5h1M366,72.5h1M367.5,71.9V81.3M366,75.5h1M368,77.5h1M369.5,72.4V82M368,74.5h1M370,79.5h1M371.5,75.5V85.9M370,77.5h1M372,81.5h1M372.5,80.9V88.9M371,89.5h1M373,87.5h1M374.5,87.2V94.2M373,94.5h1M375,91.5h1M376.5,87.1V97.5M375,97.5h1M377,93.5h1M378.5,93V102.4M377,100.5h1M379,97.5h1M380.5,97.7V105.2M379,101.5h1M381,101.5h1M382.5,99.6V103.1M381,101.5h1M383,102.5h1M383.5,97.9V106.4M382,99.5h1M384,101.5h1M385.5,86.3V96.6M384,95.5h1M386,89.5h1M387.5,73.5V81M386,77.5h1M388,77.5h1M389.5,71.9V78.2M388,78.5h1M390,74.5h1M391.5,75.8V83M390,82.5h1M392,80.5h1M393.5,82.6V88.4M392,88.5h1M394,87.5h1M394.5,86.2V95.2M393,94.5h1M395,91.5h1M396.5,86.7V97.5M395,90.5h1M397,94.5h1M398.5,90.8V99.5M397,93.5h1M399,97.5h1M400.5,93.1V103.8M399,103.5h1M401,100.5h1M402.5,98.9V102.4M401,101.5h1M403,100.5h1M404.5,98.6V105.7M403,102.5h1M405,103.5h1M405.5,96.9V107.1M404,99.5h1M406,100.5h1M407.5,87.7V99.8M406,95.5h1M408,92.5h1M409.5,81.1V89.2M408,84.5h1M410,84.5h1M411.5,79.4V87M410,81.5h1M412,81.5h1M413.5,81.3V86.2M412,84.5h1M414,85.5h1M414.5,81.3V93.8M413,85.5h1M415,89.5h1M416.5,91.7V97.8M415,95.5h1M417,96.5h1M418.5,93.7V99M417,97.5h1M419,96.5h1M420.5,92.4V101.7M419,100.5h1M421,98.5h1M422.5,101.6V111.9M421,107.5h1M423,110.5h1M425.5,133V139.2M424,135.5h1M426,138.5h1M427.5,143.3V151.3M426,148.5h1M428,148.5h1M431.5,141.3V149.3M430,143.5h1M432,146.5h1M433.5,141.1V146.6M432,144.5h1M434,145.5h1M435.5,141.4V148.6M434,148.5h1M436,145.5h1M438.5,144.7V149.1M437,149.5h1M439,148.5h1M440.5,142.9V150.1M439,146.5h1M441,145.5h1M442.5,141.6V147.6M441,147.5h1M443,143.5h1M444.5,137V143.6M443,139.5h1M445,140.5h1M447.5,137.3V142.3M446,141.5h1M448,139.5h1M449.5,136.6V139.6M448,138.5h1M450,138.5h1M451.5,133.4V138.5M450,137.5h1M452,135.5h1M453.5,131.8V136.1M452,132.5h1M454,135.5h1M455.5,129.5V134.9M454,130.5h1M456,133.5h1M457.5,127V133.8M456,129.5h1M458,130.5h1M458.5,123.5V130.9M457,126.5h1M459,125.5h1M460.5,120.9V128M459,128.5h1M461,123.5h1M464.5,110.5V118.3M463,111.5h1M465,114.5h1M469.5,122.7V131.8M468,124.5h1M470,129.5h1M479.5,164.8V171.8M478,167.5h1M480,169.5h1M480.5,167.6V172.6M479,172.5h1M481,170.5h1M482.5,170.1V175.5M481,174.5h1M483,173.5h1M484.5,176.1V184.1M483,184.5h1M485,180.5h1M486.5,178.1V181.9M485,182.5h1M487,181.5h1M488.5,178.2V184.9M487,179.5h1M489,182.5h1M490.5,178.8V184.9M489,181.5h1M491,183.5h1" stroke="#000" stroke-width="1" fill="none" shape-rendering="crispEdges"/>
<path d="M125.5,126V147.5M151.5,122.5V140M224.5,105V117.5M284.5,92.5V120M296.5,77.5V100M423.5,120V138.5M429.5,141.5V156M437.5,141V150M462.5,109.5V117M465.5,111V120M467.5,124V131M445.5,133V139M472.5,110.5V137.5M473.5,135V150M475.5,148V186M477.5,168V176M130.5,160V173" stroke="#ff0000" stroke-width="1" fill="none"/>
<polyline points="150,221 160,210.5 170,202 180,192.5 190,183.5 200,173.5 210,165.5 215,161.5 222.5,155.5 231.2,146.2 237.5,142 244,140 250,138.8 257.5,139.5 265,141.2 275,142 285,140.8 295,138 302.5,133.8 310,128.8 320,122.5 330,117.5 336.2,114.4 342.5,110.6 348.8,108.4 355,106.6 361.2,104 367.5,101.9 373.8,98 380,95.3 386.2,91.9 391.2,89.5 395,87.5 400,86.5 407.5,84.2 415,82.5 421,83 427.5,86.2 437.5,92.5 447.5,98.5 455,101.5 460,105 467.5,108.8 475,112.5 482.5,117.5 487.5,122 489.5,123.8" fill="none" stroke="#800080" stroke-width="2" stroke-linejoin="round"/>
</g>
<g id="arrows" shape-rendering="geometricPrecision">
<path d="M191,175L194.7,179.5H192.5V187.5H189.5V179.5H187.3Z" fill="#ff0000"/>
<path d="M220.5,155L224.2,159.5H222V169H219V159.5H216.8Z" fill="#ff0000"/>
<path d="M268,181L271.7,185.5H269.5V194H266.5V185.5H264.3Z" fill="#ff0000"/>
<path d="M418.8,158L422.4,162.5H420.2V169.5H417.2V162.5H415.1Z" fill="#ff0000"/>
<path d="M412.5,123V112M409.5,116L412.5,112L415.5,116" stroke="#ff0000" stroke-width="1.8" fill="none"/>
<path d="M217.5,94L221.2,89.5H219V84H216V89.5H213.8Z" fill="#ff0000"/>
<path d="M248.5,104L252.2,99.5H250V94H247V99.5H244.8Z" fill="#ff0000"/>
<path d="M394.5,66L398.2,61.5H396V57H393V61.5H390.8Z" fill="#ff0000"/>
<path d="M414.5,70L418.2,65.5H416V60H413V65.5H410.8Z" fill="#ff0000"/>
<path d="M420.5,84L424.2,79.5H422V75.5H419V79.5H416.8Z" fill="#ff0000"/>
<path d="M210.5,76V85.5M206.5,81.5L210.5,85.5L214.5,81.5M211.5,76V85.5M207.5,81.5L211.5,85.5L215.5,81.5M213.5,76V85.5M209.5,81.5L213.5,85.5L217.5,81.5M215.5,76V85.5M211.5,81.5L215.5,85.5L219.5,81.5M217.5,76V85.5M213.5,81.5L217.5,85.5L221.5,81.5M219.5,76V85.5M215.5,81.5L219.5,85.5L223.5,81.5M220.5,76V85.5M216.5,81.5L220.5,85.5L224.5,81.5M222.5,76V85.5M218.5,81.5L222.5,85.5L226.5,81.5M224.5,76V85.5M220.5,81.5L224.5,85.5L228.5,81.5M226.5,76V85.5M222.5,81.5L226.5,85.5L230.5,81.5M228.5,76V85.5M224.5,81.5L228.5,85.5L232.5,81.5M230.5,76V85.5M226.5,81.5L230.5,85.5L234.5,81.5M231.5,76V85.5M227.5,81.5L231.5,85.5L235.5,81.5M233.5,76V85.5M229.5,81.5L233.5,85.5L237.5,81.5M235.5,76V85.5M231.5,81.5L235.5,85.5L239.5,81.5M237.5,76V85.5M233.5,81.5L237.5,85.5L241.5,81.5M239.5,76V85.5M235.5,81.5L239.5,85.5L243.5,81.5M241.5,76V85.5M237.5,81.5L241.5,85.5L245.5,81.5M242.5,76V85.5M238.5,81.5L242.5,85.5L246.5,81.5M244.5,76V85.5M240.5,81.5L244.5,85.5L248.5,81.5M246.5,76V85.5M242.5,81.5L246.5,85.5L250.5,81.5M248.5,76V85.5M244.5,81.5L248.5,85.5L252.5,81.5M250.5,76V85.5M246.5,81.5L250.5,85.5L254.5,81.5M252.5,76V85.5M248.5,81.5L252.5,85.5L256.5,81.5M290.5,24V34M286.5,30L290.5,34L294.5,30M291.5,24V34M287.5,30L291.5,34L295.5,30M293.5,24V34M289.5,30L293.5,34L297.5,30M295.5,24V34M291.5,30L295.5,34L299.5,30M297.5,24V34M293.5,30L297.5,34L301.5,30M299.5,24V34M295.5,30L299.5,34L303.5,30M300.5,24V34M296.5,30L300.5,34L304.5,30M302.5,24V34M298.5,30L302.5,34L306.5,30M304.5,24V34M300.5,30L304.5,34L308.5,30M306.5,24V34M302.5,30L306.5,34L310.5,30M308.5,24V34M304.5,30L308.5,34L312.5,30M310.5,24V34M306.5,30L310.5,34L314.5,30M311.5,24V34M307.5,30L311.5,34L315.5,30M313.5,24V34M309.5,30L313.5,34L317.5,30M315.5,24V34M311.5,30L315.5,34L319.5,30M317.5,24V34M313.5,30L317.5,34L321.5,30M319.5,24V34M315.5,30L319.5,34L323.5,30M321.5,24V34M317.5,30L321.5,34L325.5,30M322.5,24V34M318.5,30L322.5,34L326.5,30M324.5,24V34M320.5,30L324.5,34L328.5,30M326.5,24V34M322.5,30L326.5,34L330.5,30M328.5,24V34M324.5,30L328.5,34L332.5,30M330.5,24V34M326.5,30L330.5,34L334.5,30M332.5,24V34M328.5,30L332.5,34L336.5,30M333.5,24V34M329.5,30L333.5,34L337.5,30M335.5,24V34M331.5,30L335.5,34L339.5,30M337.5,24V34M333.5,30L337.5,34L341.5,30M339.5,24V34M335.5,30L339.5,34L343.5,30M341.5,24V34M337.5,30L341.5,34L345.5,30M343.5,24V34M339.5,30L343.5,34L347.5,30M344.5,24V34M340.5,30L344.5,34L348.5,30M346.5,24V34M342.5,30L346.5,34L350.5,30M358.5,41V50.5M354.5,46.5L358.5,50.5L362.5,46.5M359.5,41V50.5M355.5,46.5L359.5,50.5L363.5,46.5M361.5,41V50.5M357.5,46.5L361.5,50.5L365.5,46.5M363.5,41V50.5M359.5,46.5L363.5,50.5L367.5,46.5M365.5,41V50.5M361.5,46.5L365.5,50.5L369.5,46.5M367.5,41V50.5M363.5,46.5L367.5,50.5L371.5,46.5M368.5,41V50.5M364.5,46.5L368.5,50.5L372.5,46.5M370.5,41V50.5M366.5,46.5L370.5,50.5L374.5,46.5M372.5,41V50.5M368.5,46.5L372.5,50.5L376.5,46.5M374.5,41V50.5M370.5,46.5L374.5,50.5L378.5,46.5M376.5,41V50.5M372.5,46.5L376.5,50.5L380.5,46.5M378.5,41V50.5M374.5,46.5L378.5,50.5L382.5,46.5M379.5,41V50.5M375.5,46.5L379.5,50.5L383.5,46.5M381.5,41V50.5M377.5,46.5L381.5,50.5L385.5,46.5M383.5,41V50.5M379.5,46.5L383.5,50.5L387.5,46.5M385.5,41V50.5M381.5,46.5L385.5,50.5L389.5,46.5M387.5,41V50.5M383.5,46.5L387.5,50.5L391.5,46.5M389.5,41V50.5M385.5,46.5L389.5,50.5L393.5,46.5M390.5,41V50.5M386.5,46.5L390.5,50.5L394.5,46.5M392.5,41V50.5M388.5,46.5L392.5,50.5L396.5,46.5M394.5,41V50.5M390.5,46.5L394.5,50.5L398.5,46.5M396.5,41V50.5M392.5,46.5L396.5,50.5L400.5,46.5M398.5,41V50.5M394.5,46.5L398.5,50.5L402.5,46.5M406.5,51V60M402.5,56L406.5,60L410.5,56M407.5,51V60M403.5,56L407.5,60L411.5,56M409.5,51V60M405.5,56L409.5,60L413.5,56M411.5,51V60M407.5,56L411.5,60L415.5,56M413.5,51V60M409.5,56L413.5,60L417.5,56M279.5,50V59.5M275.5,55.5L279.5,59.5L283.5,55.5M281.5,50V59.5M277.5,55.5L281.5,59.5L285.5,55.5M283.5,50V59.5M279.5,55.5L283.5,59.5L287.5,55.5M284.5,50V59.5M280.5,55.5L284.5,59.5L288.5,55.5M286.5,50V59.5M282.5,55.5L286.5,59.5L290.5,55.5M288.5,35V44.5M284.5,40.5L288.5,44.5L292.5,40.5M286.5,45V57M282.5,53L286.5,57L290.5,53M277.5,59V68M273.5,64L277.5,68L281.5,64M275.5,64V76M271.5,72L275.5,76L279.5,72M273.5,64V76M269.5,72L273.5,76L277.5,72" stroke="#ff00ff" stroke-width="1" fill="none" shape-rendering="crispEdges"/>
</g>
<g id="indicators">
<path d="M70,258.5h1M72,257.5h1M75,257.5h1M78,256.5h1M81,256.5h1M83,256.5h1M86,255.5h1M89,255.5h1M92,254.5h1M94,254.5h1M97,254.5h1M100,253.5h1M103,253.5h1M105,252.5h1M108,251.5h1M111,251.5h1M114,250.5h1M116,249.5h1M119,248.5h1M122,247.5h1M125,245.5h1M127,244.5h1M130,242.5h1M133,240.5h1M136,238.5h1M138,236.5h1M141,235.5h1M144,234.5h1M147,232.5h1M149,231.5h1M152,230.5h1M155,230.5h1M158,229.5h1M160,229.5h1M163,229.5h1M166,229.5h1M169,229.5h1M171,230.5h1M174,230.5h1M177,230.5h1M180,231.5h1M182,231.5h1M185,231.5h1M188,231.5h1M191,232.5h1M193,232.5h1M196,232.5h1M199,232.5h1M202,232.5h1M204,233.5h1M207,233.5h1M210,234.5h1M213,235.5h1M215,236.5h1M218,237.5h1M221,238.5h1M224,239.5h1M226,240.5h1M229,241.5h1M232,242.5h1M235,243.5h1M237,244.5h1M240,245.5h1M243,246.5h1M246,247.5h1M248,248.5h1M251,249.5h1M254,250.5h1M257,251.5h1M259,252.5h1M262,253.5h1M265,254.5h1M268,254.5h1M270,255.5h1M273,256.5h1M276,256.5h1M279,256.5h1M281,257.5h1M284,257.5h1M287,258.5h1M290,258.5h1M292,259.5h1M295,259.5h1M298,259.5h1M301,260.5h1M303,260.5h1M306,260.5h1M309,261.5h1M312,261.5h1M314,261.5h1M317,262.5h1M320,262.5h1M323,262.5h1M325,263.5h1M328,263.5h1M331,263.5h1M334,263.5h1M336,262.5h1M339,261.5h1M342,261.5h1M345,260.5h1M347,259.5h1M350,259.5h1M353,258.5h1M356,259.5h1M358,259.5h1M361,259.5h1M364,259.5h1M367,259.5h1M369,260.5h1M372,261.5h1M375,262.5h1M378,263.5h1M380,263.5h1M383,264.5h1M386,265.5h1M389,266.5h1M391,266.5h1M394,266.5h1M397,267.5h1M400,267.5h1M402,267.5h1M405,267.5h1M408,267.5h1M411,267.5h1M413,267.5h1M416,267.5h1M419,267.5h1M422,268.5h1M424,269.5h1M427,271.5h1M430,272.5h1M433,274.5h1M435,275.5h1M438,276.5h1M441,277.5h1M444,279.5h1M446,280.5h1M449,281.5h1M452,283.5h1M455,284.5h1M457,285.5h1M460,286.5h1M463,287.5h1M466,288.5h1M468,289.5h1M471,291.5h1M474,292.5h1M477,294.5h1M479,295.5h1M482,297.5h1M485,299.5h1M488,301.5h1" stroke="#ff0000" stroke-width="1" fill="none"/>
<polyline points="33,250 37.5,248.8 41,245.8 45,248.8 50,246.2 54,250 60,248.8 67.5,250 75,252.5 82.5,251.2 87.5,253.8 92.5,257 97.5,257 102.5,255 107.5,250 112.5,245 117.5,238.8 120,236.2 125,235.5 130,237.5 132.5,227.5 136,226.2 140,230 145,228.8 150,227.5 151,223 155,225 159,223.8 161,228.8 164,237.5 166,237.5 167.5,230 172.5,231.2 177.5,235 182.5,232 190,233 195,232 199,230 200,230.5 205,236.2 210,242.5 215,248.8 220,248.8 224,240.5 229,246.2 232.5,249.5 240,251.2 247.5,255.5 255,256.2 260,260 265,260.5 271,258 277.5,256.2 282.5,256.2 283,253 284.5,261.2 287.5,258.8 294,259.5 297.5,266.2 304,266.2 306,262 314,260.8 317,267.5 320,263.8 327.5,264.5 328,258.8 335,258 339,254.5 342.5,252.5 347.5,254.5 352.5,258 357.5,267 361,265.5 365,263.8 370,267 375,270 380,270.8 385,266.2 387.5,263.8 392.5,267 397.5,268.2 405,268.2 410,265.8 415,268 420,268.8 422.5,272.5 424,279.5 427.5,282.5 432.5,285 440,286.2 446,288.8 450,291.2 455,291.2 456,290.5 461,287.5 465.5,285.8 469,291.2 471,298.8 474,306.2 476,313.8 480,313.8 484,316.2 487.5,317.5 489.5,320" fill="none" stroke="#0000ff" stroke-width="2" stroke-linejoin="round"/>
<path d="M120,322.5h1M122,321.5h1M125,319.5h1M128,318.5h1M131,317.5h1M133,316.5h1M136,315.5h1M139,314.5h1M142,313.5h1M144,312.5h1M147,312.5h1M150,311.5h1M153,310.5h1M155,309.5h1M158,309.5h1M161,308.5h1M164,308.5h1M166,308.5h1M169,308.5h1M172,308.5h1M175,308.5h1M177,308.5h1M180,308.5h1M183,309.5h1M186,309.5h1M188,310.5h1M191,310.5h1M194,311.5h1M197,311.5h1M199,312.5h1M202,312.5h1M205,312.5h1M208,312.5h1M210,312.5h1M213,311.5h1M216,311.5h1M219,311.5h1M221,311.5h1M224,311.5h1M227,311.5h1M230,311.5h1M232,311.5h1M235,311.5h1M238,311.5h1M241,311.5h1M243,311.5h1M246,311.5h1M249,311.5h1M252,312.5h1M254,312.5h1M257,313.5h1M260,314.5h1M263,314.5h1M265,315.5h1M268,315.5h1M271,316.5h1M274,316.5h1M276,317.5h1M279,317.5h1M282,317.5h1M285,317.5h1M287,317.5h1M290,317.5h1M293,316.5h1M296,316.5h1M298,315.5h1M301,315.5h1M304,314.5h1M307,313.5h1M309,312.5h1M312,311.5h1M315,311.5h1M318,310.5h1M320,309.5h1M323,309.5h1M326,308.5h1M329,308.5h1M331,307.5h1M334,307.5h1M337,306.5h1M340,306.5h1M342,306.5h1M345,305.5h1M348,305.5h1M351,305.5h1M353,305.5h1M356,305.5h1M359,305.5h1M362,305.5h1M364,305.5h1M367,305.5h1M370,305.5h1M373,305.5h1M375,305.5h1M378,305.5h1M381,305.5h1M384,305.5h1M386,306.5h1M389,306.5h1M392,306.5h1M395,307.5h1M397,307.5h1M400,307.5h1M403,307.5h1M406,308.5h1M408,308.5h1M411,308.5h1M414,308.5h1M417,308.5h1M419,308.5h1M422,308.5h1M425,308.5h1M428,308.5h1M430,308.5h1M433,308.5h1M436,308.5h1M439,308.5h1M441,308.5h1M444,307.5h1M447,307.5h1M450,306.5h1M452,305.5h1M455,305.5h1M458,304.5h1M461,303.5h1M463,301.5h1M466,300.5h1M469,300.5h1M472,301.5h1M474,302.5h1M477,304.5h1M480,306.5h1M483,307.5h1M485,309.5h1M488,311.5h1" stroke="#000" stroke-width="1" fill="none"/>
<path d="M124,360.5h1M126,355.5h1M129,350.5h1M132,347.5h1M135,343.5h1M137,339.5h1M140,337.5h1M143,334.5h1M146,331.5h1M148,329.5h1M151,327.5h1M154,325.5h1M157,324.5h1M159,323.5h1M162,324.5h1M165,325.5h1M168,326.5h1M170,327.5h1M173,329.5h1M176,330.5h1M179,332.5h1M181,334.5h1M184,336.5h1M187,337.5h1M190,338.5h1M192,339.5h1M195,340.5h1M198,341.5h1M201,342.5h1M203,342.5h1M206,343.5h1M209,343.5h1M212,343.5h1M214,343.5h1M217,342.5h1M220,341.5h1M223,340.5h1M225,338.5h1M228,337.5h1M231,336.5h1M234,335.5h1M236,334.5h1M239,333.5h1M242,332.5h1M245,332.5h1M247,331.5h1M250,331.5h1M253,331.5h1M256,331.5h1M258,332.5h1M261,333.5h1M264,335.5h1M267,336.5h1M269,337.5h1M272,339.5h1M275,340.5h1M278,340.5h1M280,340.5h1M283,339.5h1M286,339.5h1M289,338.5h1M291,337.5h1M294,335.5h1M297,333.5h1M300,330.5h1M302,327.5h1M305,324.5h1M308,321.5h1M311,319.5h1M313,317.5h1M316,316.5h1M319,315.5h1M322,314.5h1M324,313.5h1M327,313.5h1M330,313.5h1M333,313.5h1M335,313.5h1M338,312.5h1M341,312.5h1M344,312.5h1M346,312.5h1M349,313.5h1M352,313.5h1M355,314.5h1M357,314.5h1M360,314.5h1M363,314.5h1M366,314.5h1M368,313.5h1M371,314.5h1M374,314.5h1M377,315.5h1M379,316.5h1M382,317.5h1M385,318.5h1M388,319.5h1M390,319.5h1M393,320.5h1M396,320.5h1M399,320.5h1M401,320.5h1M404,320.5h1M407,320.5h1M410,320.5h1M412,320.5h1M415,321.5h1M418,321.5h1M421,322.5h1M423,323.5h1M426,325.5h1M429,327.5h1M432,328.5h1M434,330.5h1M437,332.5h1M440,333.5h1M443,335.5h1M445,337.5h1M448,338.5h1M451,339.5h1M454,340.5h1M456,341.5h1M459,341.5h1M462,341.5h1M465,341.5h1M467,341.5h1M470,341.5h1M473,342.5h1M476,343.5h1M478,344.5h1M481,346.5h1M484,348.5h1M487,350.5h1" stroke="#ff0000" stroke-width="1" fill="none"/>
<polyline points="33,326 35,326 41,323.5 46,324 50,326 55,325 62.5,324 70,325 76,324 81,322 86,323 92.5,324.5 100,323 107.5,322 112.5,320 116,317 120,313.5 122.5,314.5 125,308.5 128,312 131,311 134,313 137.5,312 140.6,308.5 146,308.5 150,306 155,306.5 157.5,308.5 162.5,308.8 167.5,311.2 175,313 180,314.5 187.5,313.8 195,312.5 200,310.5 205,312.5 212.5,311.5 220,310.8 225,308 229,310.5 235,313.5 242.5,312 247.5,311.2 250,312.5 257.5,317.5 265,320.5 272.5,318.8 279,315.5 282.5,312.5 286,315 294,317.5 299,311.2 304,310 307.5,305 312.5,303.8 317.5,306.2 322.5,307.5 330,308 337.5,306.2 344,303.8 350,305.5 357.5,306.2 365,303.8 372.5,305.5 380,308.8 387.5,307 395,308 402.5,308.8 410,306.2 417.5,308 422.5,311.2 426,314.5 430,312.5 434,311.2 436,302.5 444,301.2 450,302.8 457.5,302.5 461,297.5 465,288.8 467.5,293.8 471,305 474,315 475.5,328.8 480,327.5 485,330 488,333.8 489.5,337.5" fill="none" stroke="#ff00ff" stroke-width="2" stroke-linejoin="round"/>
<polyline points="35,402.5 37.5,400 40.6,396 42.5,398.8 46.2,397 50,393.8 52.5,398 55,401 58,402 58.8,395 61.2,393 63.8,396 67.5,398 71.2,402.5 73.8,403 76.2,395 77.5,392 78.8,388 80,381 81.2,372 83.8,373.5 87,379.8 88.8,374.8 91.2,382.5 92.5,376 95,371.5 97,367 100,371.5 102,365 105,358.5 108.8,368 111.2,361 115,354.8 117,347 118.8,337 120.6,333.5 123,331 124.4,318.5 125.2,304 127,313.5 128.8,331 130,332 132,321 134.4,327 136.2,334 138.8,326 141.2,327 145,329 146.2,320 148,327 151.2,318.5 155,319 157.5,321 160,316.2 164,333.8 167.5,327.5 172.5,336.2 177.5,346.2 181,340 185,346.2 189,350 194,343.8 199,332.5 204,348.8 209,343.8 212.5,342.5 216,346.2 220,341.2 224,321.2 229,323.8 234,322.5 237.5,332 242.5,327.5 246,325.5 250,332.5 254,338 255.5,348.5 259,352.5 261,355.5 266,352.5 269,342.5 272.5,343.8 277.5,331.2 282.5,322.5 286,318.8 289,326.2 291,335 294,338.8 295,307.5 297.5,298.8 300,310 304,307.5 306,297.5 309.5,295.5 312.5,298.8 315,311.2 319,316.2 322.5,318.8 326,320 328,326.2 331,323.8 335,317.5 339,307.5 343,303.8 346,306.2 349,316.2 352.5,315 356,318.8 360,316.2 365,314.5 369,317.5 372.5,322.5 376,323.8 380.5,327.5 384,326.2 387.5,315 391,317.5 395,320 400,322.5 404,321 408,317 412,314.5 415,320 419,321 421,326.2 423,342.5 426,347.5 431,347 435,344.5 439,348 442.5,344.5 447.5,343 451,342.8 455,339.5 458,336.2 461,328.8 464.5,323.8 466,325 468,338.8 470.5,345 473,355 475,367.5 477.5,370 480,368.8 484,372.5 486,373.8 488,377.5 489.5,383.8" fill="none" stroke="#000" stroke-width="2" stroke-linejoin="round"/>
</g>
</svg>
</body></html>
